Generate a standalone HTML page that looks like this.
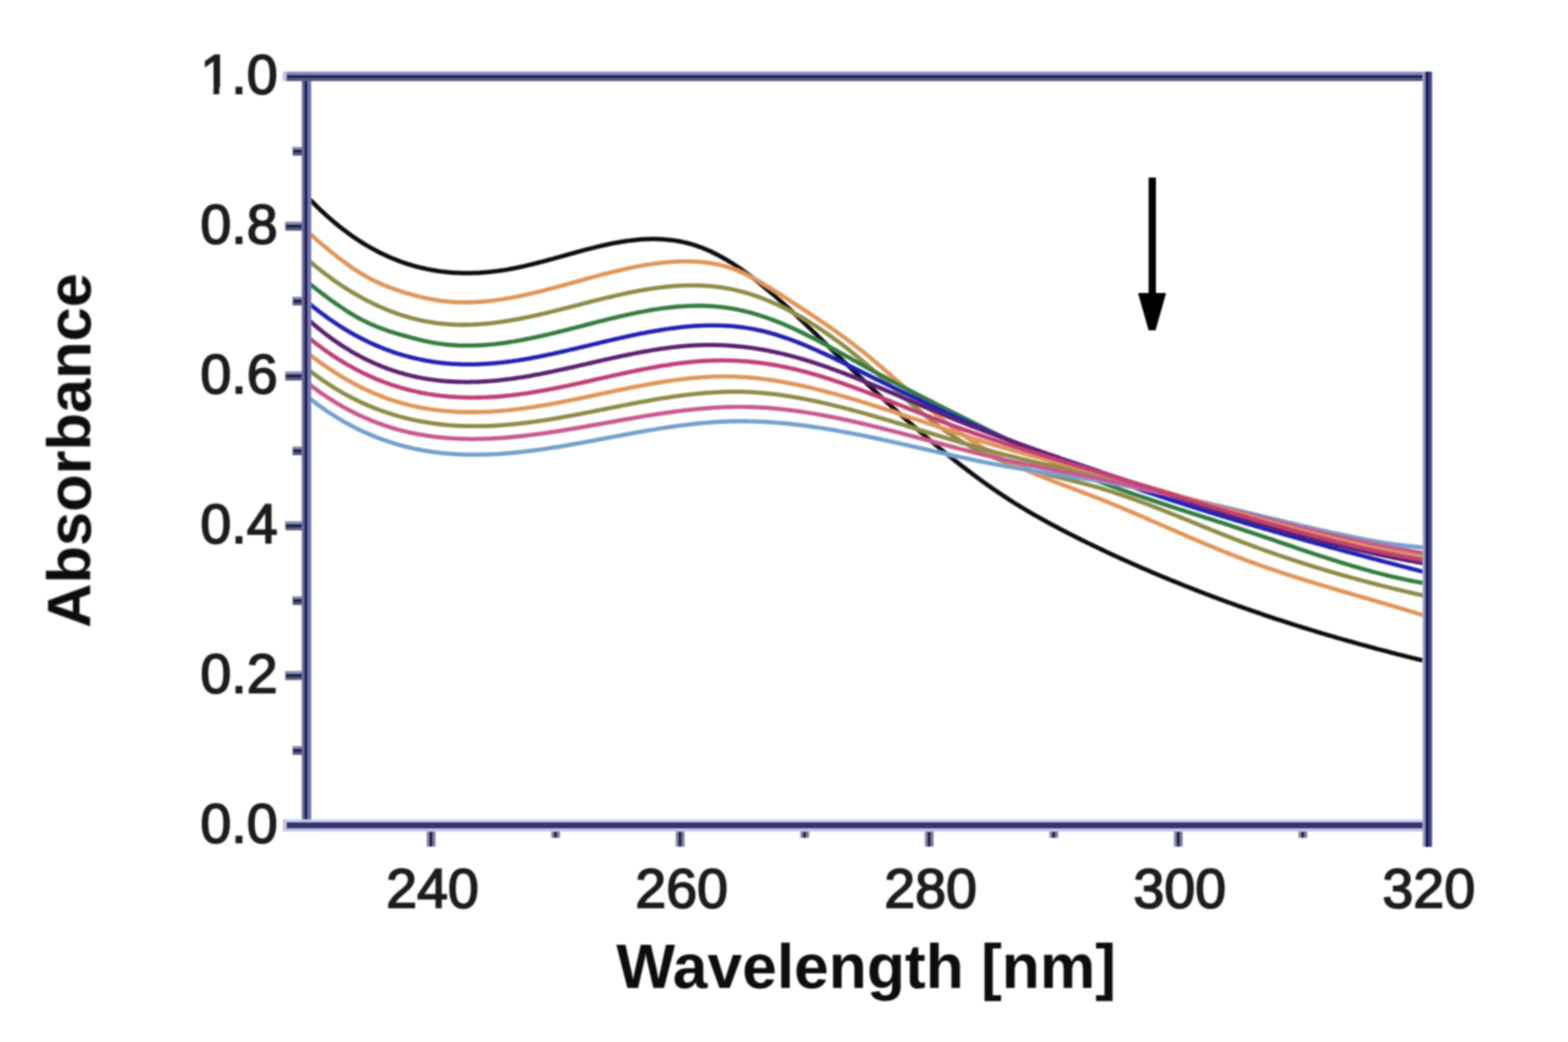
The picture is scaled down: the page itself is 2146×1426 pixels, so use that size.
<!DOCTYPE html>
<html><head><meta charset="utf-8"><title>Absorbance spectra</title><style>html,body{margin:0;padding:0;background:#fff;}svg{display:block;}</style></head><body>
<svg width="2146" height="1426" viewBox="0 0 2146 1426">
<defs><filter id="soft" x="0" y="0" width="2146" height="1426" filterUnits="userSpaceOnUse"><feGaussianBlur stdDeviation="0.9"/></filter></defs>
<rect width="2146" height="1426" fill="#fff"/>
<g filter="url(#soft)">
<clipPath id="c"><rect x="419.5" y="104.5" width="1534.0" height="1025.0"/></clipPath>
<g clip-path="url(#c)" fill="none" stroke-linejoin="round" stroke-linecap="round">
<path d="M420.0,268.6 L423.0,271.8 L426.0,274.9 L429.0,277.9 L432.0,280.9 L435.0,283.9 L438.0,286.7 L441.0,289.6 L444.0,292.3 L447.0,295.1 L450.0,297.7 L453.0,300.3 L456.0,302.9 L459.0,305.4 L462.0,307.9 L465.0,310.3 L468.0,312.6 L471.0,314.9 L474.0,317.2 L477.0,319.4 L480.0,321.6 L483.0,323.7 L486.0,325.7 L489.0,327.7 L492.0,329.7 L495.0,331.6 L498.0,333.5 L501.0,335.3 L504.0,337.0 L507.0,338.8 L510.0,340.4 L513.0,342.1 L516.0,343.7 L519.0,345.2 L522.0,346.7 L525.0,348.1 L528.0,349.6 L531.0,350.9 L534.0,352.2 L537.0,353.5 L540.0,354.7 L543.0,355.9 L546.0,357.1 L549.0,358.2 L552.0,359.3 L555.0,360.3 L558.0,361.3 L561.0,362.2 L564.0,363.1 L567.0,364.0 L570.0,364.8 L573.0,365.6 L576.0,366.3 L579.0,367.0 L582.0,367.7 L585.0,368.4 L588.0,368.9 L591.0,369.5 L594.0,370.0 L597.0,370.5 L600.0,371.0 L603.0,371.4 L606.0,371.8 L609.0,372.1 L612.0,372.4 L615.0,372.7 L618.0,372.9 L621.0,373.2 L624.0,373.3 L627.0,373.5 L630.0,373.6 L633.0,373.7 L636.0,373.7 L639.0,373.7 L642.0,373.7 L645.0,373.7 L648.0,373.6 L651.0,373.5 L654.0,373.4 L657.0,373.2 L660.0,373.0 L663.0,372.8 L666.0,372.5 L669.0,372.3 L672.0,371.9 L675.0,371.6 L678.0,371.3 L681.0,370.9 L684.0,370.5 L687.0,370.0 L690.0,369.6 L693.0,369.1 L696.0,368.6 L699.0,368.0 L702.0,367.5 L705.0,366.9 L708.0,366.3 L711.0,365.6 L714.0,365.0 L717.0,364.3 L720.0,363.6 L723.0,362.9 L726.0,362.2 L729.0,361.5 L732.0,360.7 L735.0,360.0 L738.0,359.2 L741.0,358.4 L744.0,357.6 L747.0,356.8 L750.0,356.0 L753.0,355.2 L756.0,354.4 L759.0,353.5 L762.0,352.7 L765.0,351.9 L768.0,351.0 L771.0,350.2 L774.0,349.3 L777.0,348.5 L780.0,347.7 L783.0,346.8 L786.0,346.0 L789.0,345.2 L792.0,344.4 L795.0,343.5 L798.0,342.7 L801.0,341.9 L804.0,341.1 L807.0,340.4 L810.0,339.6 L813.0,338.9 L816.0,338.1 L819.0,337.4 L822.0,336.7 L825.0,336.0 L828.0,335.3 L831.0,334.7 L834.0,334.0 L837.0,333.4 L840.0,332.8 L843.0,332.3 L846.0,331.7 L849.0,331.2 L852.0,330.7 L855.0,330.2 L858.0,329.8 L861.0,329.4 L864.0,329.0 L867.0,328.7 L870.0,328.4 L873.0,328.1 L876.0,327.8 L879.0,327.6 L882.0,327.4 L885.0,327.3 L888.0,327.2 L891.0,327.1 L894.0,327.1 L897.0,327.1 L900.0,327.2 L903.0,327.3 L906.0,327.4 L909.0,327.6 L912.0,327.9 L915.0,328.2 L918.0,328.5 L921.0,328.9 L924.0,329.3 L927.0,329.8 L930.0,330.3 L933.0,330.9 L936.0,331.6 L939.0,332.2 L942.0,333.0 L945.0,333.8 L948.0,334.7 L951.0,335.6 L954.0,336.6 L957.0,337.7 L960.0,338.8 L963.0,339.9 L966.0,341.2 L969.0,342.5 L972.0,343.8 L975.0,345.2 L978.0,346.7 L981.0,348.2 L984.0,349.8 L987.0,351.4 L990.0,353.1 L993.0,354.8 L996.0,356.6 L999.0,358.5 L1002.0,360.3 L1005.0,362.3 L1008.0,364.2 L1011.0,366.2 L1014.0,368.3 L1017.0,370.4 L1020.0,372.6 L1023.0,374.7 L1026.0,377.0 L1029.0,379.2 L1032.0,381.5 L1035.0,383.9 L1038.0,386.2 L1041.0,388.6 L1044.0,391.1 L1047.0,393.6 L1050.0,396.1 L1053.0,398.6 L1056.0,401.1 L1059.0,403.7 L1062.0,406.3 L1065.0,409.0 L1068.0,411.7 L1071.0,414.3 L1074.0,417.1 L1077.0,419.8 L1080.0,422.5 L1083.0,425.3 L1086.0,428.1 L1089.0,430.9 L1092.0,433.7 L1095.0,436.6 L1098.0,439.4 L1101.0,442.3 L1104.0,445.1 L1107.0,448.0 L1110.0,450.9 L1113.0,453.8 L1116.0,456.7 L1119.0,459.7 L1122.0,462.6 L1125.0,465.5 L1128.0,468.4 L1131.0,471.4 L1134.0,474.3 L1137.0,477.2 L1140.0,480.2 L1143.0,483.1 L1146.0,486.0 L1149.0,488.9 L1152.0,491.8 L1155.0,494.8 L1158.0,497.7 L1161.0,500.6 L1164.0,503.4 L1167.0,506.3 L1170.0,509.2 L1173.0,512.1 L1176.0,514.9 L1179.0,517.8 L1182.0,520.6 L1185.0,523.5 L1188.0,526.3 L1191.0,529.1 L1194.0,532.0 L1197.0,534.8 L1200.0,537.6 L1203.0,540.4 L1206.0,543.1 L1209.0,545.9 L1212.0,548.7 L1215.0,551.4 L1218.0,554.2 L1221.0,556.9 L1224.0,559.6 L1227.0,562.4 L1230.0,565.1 L1233.0,567.8 L1236.0,570.4 L1239.0,573.1 L1242.0,575.8 L1245.0,578.4 L1248.0,581.1 L1251.0,583.7 L1254.0,586.3 L1257.0,588.9 L1260.0,591.5 L1263.0,594.1 L1266.0,596.6 L1269.0,599.2 L1272.0,601.7 L1275.0,604.2 L1278.0,606.7 L1281.0,609.2 L1284.0,611.7 L1287.0,614.2 L1290.0,616.7 L1293.0,619.1 L1296.0,621.5 L1299.0,623.9 L1302.0,626.3 L1305.0,628.7 L1308.0,631.1 L1311.0,633.4 L1314.0,635.8 L1317.0,638.1 L1320.0,640.4 L1323.0,642.7 L1326.0,645.0 L1329.0,647.2 L1332.0,649.5 L1335.0,651.7 L1338.0,653.9 L1341.0,656.1 L1344.0,658.3 L1347.0,660.4 L1350.0,662.6 L1353.0,664.7 L1356.0,666.8 L1359.0,668.9 L1362.0,670.9 L1365.0,673.0 L1368.0,675.0 L1371.0,677.0 L1374.0,679.0 L1377.0,681.0 L1380.0,682.9 L1383.0,684.9 L1386.0,686.8 L1389.0,688.7 L1392.0,690.5 L1395.0,692.4 L1398.0,694.2 L1401.0,696.0 L1404.0,697.8 L1407.0,699.6 L1410.0,701.3 L1413.0,703.1 L1416.0,704.8 L1419.0,706.5 L1422.0,708.2 L1425.0,709.9 L1428.0,711.5 L1431.0,713.2 L1434.0,714.8 L1437.0,716.5 L1440.0,718.1 L1443.0,719.7 L1446.0,721.3 L1449.0,722.8 L1452.0,724.4 L1455.0,726.0 L1458.0,727.5 L1461.0,729.1 L1464.0,730.6 L1467.0,732.1 L1470.0,733.6 L1473.0,735.2 L1476.0,736.7 L1479.0,738.2 L1482.0,739.7 L1485.0,741.1 L1488.0,742.6 L1491.0,744.1 L1494.0,745.5 L1497.0,747.0 L1500.0,748.4 L1503.0,749.9 L1506.0,751.3 L1509.0,752.7 L1512.0,754.1 L1515.0,755.6 L1518.0,757.0 L1521.0,758.4 L1524.0,759.7 L1527.0,761.1 L1530.0,762.5 L1533.0,763.9 L1536.0,765.2 L1539.0,766.6 L1542.0,767.9 L1545.0,769.3 L1548.0,770.6 L1551.0,772.0 L1554.0,773.3 L1557.0,774.6 L1560.0,775.9 L1563.0,777.2 L1566.0,778.5 L1569.0,779.8 L1572.0,781.1 L1575.0,782.4 L1578.0,783.7 L1581.0,784.9 L1584.0,786.2 L1587.0,787.5 L1590.0,788.7 L1593.0,790.0 L1596.0,791.2 L1599.0,792.4 L1602.0,793.7 L1605.0,794.9 L1608.0,796.1 L1611.0,797.3 L1614.0,798.6 L1617.0,799.8 L1620.0,801.0 L1623.0,802.2 L1626.0,803.3 L1629.0,804.5 L1632.0,805.7 L1635.0,806.9 L1638.0,808.1 L1641.0,809.2 L1644.0,810.4 L1647.0,811.5 L1650.0,812.7 L1653.0,813.8 L1656.0,815.0 L1659.0,816.1 L1662.0,817.2 L1665.0,818.3 L1668.0,819.5 L1671.0,820.6 L1674.0,821.7 L1677.0,822.8 L1680.0,823.9 L1683.0,825.0 L1686.0,826.0 L1689.0,827.1 L1692.0,828.2 L1695.0,829.3 L1698.0,830.3 L1701.0,831.4 L1704.0,832.5 L1707.0,833.5 L1710.0,834.6 L1713.0,835.6 L1716.0,836.7 L1719.0,837.7 L1722.0,838.7 L1725.0,839.7 L1728.0,840.8 L1731.0,841.8 L1734.0,842.8 L1737.0,843.8 L1740.0,844.8 L1743.0,845.8 L1746.0,846.8 L1749.0,847.8 L1752.0,848.7 L1755.0,849.7 L1758.0,850.7 L1761.0,851.7 L1764.0,852.6 L1767.0,853.6 L1770.0,854.6 L1773.0,855.5 L1776.0,856.5 L1779.0,857.4 L1782.0,858.3 L1785.0,859.3 L1788.0,860.2 L1791.0,861.1 L1794.0,862.0 L1797.0,863.0 L1800.0,863.9 L1803.0,864.8 L1806.0,865.7 L1809.0,866.6 L1812.0,867.5 L1815.0,868.4 L1818.0,869.3 L1821.0,870.1 L1824.0,871.0 L1827.0,871.9 L1830.0,872.8 L1833.0,873.6 L1836.0,874.5 L1839.0,875.4 L1842.0,876.2 L1845.0,877.1 L1848.0,877.9 L1851.0,878.7 L1854.0,879.6 L1857.0,880.4 L1860.0,881.3 L1863.0,882.1 L1866.0,882.9 L1869.0,883.7 L1872.0,884.5 L1875.0,885.3 L1878.0,886.2 L1881.0,887.0 L1884.0,887.8 L1887.0,888.6 L1890.0,889.3 L1893.0,890.1 L1896.0,890.9 L1899.0,891.7 L1902.0,892.5 L1905.0,893.3 L1908.0,894.0 L1911.0,894.8 L1914.0,895.6 L1917.0,896.3 L1920.0,897.1 L1923.0,897.8 L1926.0,898.6 L1929.0,899.3 L1932.0,900.1 L1935.0,900.8 L1938.0,901.5 L1941.0,902.3 L1944.0,903.0 L1947.0,903.7 L1950.0,904.4 L1951.0,904.7" stroke="#111111" stroke-width="6.0"/>
<path d="M420.0,354.5 L423.0,357.1 L426.0,359.6 L429.0,362.1 L432.0,364.5 L435.0,367.0 L438.0,369.3 L441.0,371.7 L444.0,374.0 L447.0,376.3 L450.0,378.5 L453.0,380.7 L456.0,382.8 L459.0,385.0 L462.0,387.0 L465.0,389.1 L468.0,391.1 L471.0,393.0 L474.0,395.0 L477.0,396.9 L480.0,398.7 L483.0,400.5 L486.0,402.3 L489.0,404.0 L492.0,405.7 L495.0,407.4 L498.0,409.0 L501.0,410.6 L504.0,412.2 L507.0,413.7 L510.0,415.2 L513.0,416.6 L516.0,418.0 L519.0,419.4 L522.0,420.7 L525.0,422.0 L528.0,423.3 L531.0,424.5 L534.0,425.7 L537.0,426.8 L540.0,427.9 L543.0,429.0 L546.0,430.1 L549.0,431.1 L552.0,432.0 L555.0,432.9 L558.0,433.8 L561.0,434.7 L564.0,435.5 L567.0,436.3 L570.0,437.0 L573.0,437.7 L576.0,438.4 L579.0,439.1 L582.0,439.7 L585.0,440.2 L588.0,440.7 L591.0,441.2 L594.0,441.7 L597.0,442.1 L600.0,442.5 L603.0,442.8 L606.0,443.2 L609.0,443.4 L612.0,443.7 L615.0,443.9 L618.0,444.1 L621.0,444.2 L624.0,444.3 L627.0,444.4 L630.0,444.5 L633.0,444.5 L636.0,444.5 L639.0,444.4 L642.0,444.4 L645.0,444.3 L648.0,444.2 L651.0,444.0 L654.0,443.8 L657.0,443.6 L660.0,443.4 L663.0,443.2 L666.0,442.9 L669.0,442.6 L672.0,442.3 L675.0,441.9 L678.0,441.6 L681.0,441.2 L684.0,440.8 L687.0,440.3 L690.0,439.9 L693.0,439.4 L696.0,438.9 L699.0,438.4 L702.0,437.9 L705.0,437.4 L708.0,436.8 L711.0,436.3 L714.0,435.7 L717.0,435.1 L720.0,434.5 L723.0,433.9 L726.0,433.2 L729.0,432.6 L732.0,431.9 L735.0,431.2 L738.0,430.6 L741.0,429.9 L744.0,429.2 L747.0,428.5 L750.0,427.7 L753.0,427.0 L756.0,426.3 L759.0,425.6 L762.0,424.8 L765.0,424.1 L768.0,423.3 L771.0,422.5 L774.0,421.8 L777.0,421.0 L780.0,420.2 L783.0,419.5 L786.0,418.7 L789.0,417.9 L792.0,417.2 L795.0,416.4 L798.0,415.6 L801.0,414.8 L804.0,414.1 L807.0,413.3 L810.0,412.5 L813.0,411.8 L816.0,411.0 L819.0,410.3 L822.0,409.5 L825.0,408.8 L828.0,408.1 L831.0,407.3 L834.0,406.6 L837.0,405.9 L840.0,405.2 L843.0,404.5 L846.0,403.8 L849.0,403.2 L852.0,402.5 L855.0,401.9 L858.0,401.2 L861.0,400.6 L864.0,400.0 L867.0,399.4 L870.0,398.8 L873.0,398.2 L876.0,397.7 L879.0,397.2 L882.0,396.6 L885.0,396.1 L888.0,395.7 L891.0,395.2 L894.0,394.7 L897.0,394.3 L900.0,393.9 L903.0,393.5 L906.0,393.2 L909.0,392.8 L912.0,392.5 L915.0,392.2 L918.0,391.9 L921.0,391.7 L924.0,391.4 L927.0,391.2 L930.0,391.1 L933.0,390.9 L936.0,390.8 L939.0,390.7 L942.0,390.6 L945.0,390.6 L948.0,390.6 L951.0,390.6 L954.0,390.6 L957.0,390.7 L960.0,390.8 L963.0,391.0 L966.0,391.2 L969.0,391.4 L972.0,391.6 L975.0,391.9 L978.0,392.2 L981.0,392.5 L984.0,392.9 L987.0,393.3 L990.0,393.8 L993.0,394.3 L996.0,394.8 L999.0,395.4 L1002.0,396.0 L1005.0,396.7 L1008.0,397.3 L1011.0,398.1 L1014.0,398.8 L1017.0,399.6 L1020.0,400.5 L1023.0,401.4 L1026.0,402.3 L1029.0,403.2 L1032.0,404.2 L1035.0,405.2 L1038.0,406.3 L1041.0,407.4 L1044.0,408.5 L1047.0,409.7 L1050.0,410.9 L1053.0,412.2 L1056.0,413.4 L1059.0,414.8 L1062.0,416.1 L1065.0,417.5 L1068.0,418.9 L1071.0,420.3 L1074.0,421.8 L1077.0,423.3 L1080.0,424.9 L1083.0,426.5 L1086.0,428.1 L1089.0,429.7 L1092.0,431.4 L1095.0,433.1 L1098.0,434.8 L1101.0,436.6 L1104.0,438.4 L1107.0,440.2 L1110.0,442.1 L1113.0,444.0 L1116.0,445.9 L1119.0,447.9 L1122.0,449.9 L1125.0,451.9 L1128.0,453.9 L1131.0,456.0 L1134.0,458.1 L1137.0,460.2 L1140.0,462.3 L1143.0,464.5 L1146.0,466.7 L1149.0,469.0 L1152.0,471.2 L1155.0,473.5 L1158.0,475.8 L1161.0,478.1 L1164.0,480.5 L1167.0,482.9 L1170.0,485.3 L1173.0,487.8 L1176.0,490.2 L1179.0,492.7 L1182.0,495.2 L1185.0,497.7 L1188.0,500.3 L1191.0,502.9 L1194.0,505.5 L1197.0,508.1 L1200.0,510.7 L1203.0,513.3 L1206.0,516.0 L1209.0,518.6 L1212.0,521.3 L1215.0,524.0 L1218.0,526.6 L1221.0,529.3 L1224.0,532.0 L1227.0,534.6 L1230.0,537.3 L1233.0,539.9 L1236.0,542.6 L1239.0,545.2 L1242.0,547.9 L1245.0,550.5 L1248.0,553.1 L1251.0,555.7 L1254.0,558.2 L1257.0,560.8 L1260.0,563.3 L1263.0,565.8 L1266.0,568.2 L1269.0,570.7 L1272.0,573.1 L1275.0,575.5 L1278.0,577.8 L1281.0,580.2 L1284.0,582.4 L1287.0,584.7 L1290.0,586.9 L1293.0,589.0 L1296.0,591.1 L1299.0,593.2 L1302.0,595.2 L1305.0,597.2 L1308.0,599.1 L1311.0,601.0 L1314.0,602.9 L1317.0,604.7 L1320.0,606.4 L1323.0,608.1 L1326.0,609.8 L1329.0,611.4 L1332.0,613.0 L1335.0,614.5 L1338.0,616.0 L1341.0,617.5 L1344.0,618.9 L1347.0,620.3 L1350.0,621.7 L1353.0,623.0 L1356.0,624.3 L1359.0,625.6 L1362.0,626.8 L1365.0,628.0 L1368.0,629.2 L1371.0,630.3 L1374.0,631.5 L1377.0,632.6 L1380.0,633.6 L1383.0,634.6 L1386.0,635.7 L1389.0,636.7 L1392.0,637.6 L1395.0,638.6 L1398.0,639.5 L1401.0,640.4 L1404.0,641.3 L1407.0,642.2 L1410.0,643.0 L1413.0,643.9 L1416.0,644.7 L1419.0,645.5 L1422.0,646.3 L1425.0,647.1 L1428.0,647.9 L1431.0,648.7 L1434.0,649.4 L1437.0,650.2 L1440.0,650.9 L1443.0,651.7 L1446.0,652.4 L1449.0,653.2 L1452.0,653.9 L1455.0,654.6 L1458.0,655.4 L1461.0,656.1 L1464.0,656.9 L1467.0,657.6 L1470.0,658.4 L1473.0,659.1 L1476.0,659.9 L1479.0,660.7 L1482.0,661.4 L1485.0,662.2 L1488.0,663.0 L1491.0,663.9 L1494.0,664.7 L1497.0,665.5 L1500.0,666.4 L1503.0,667.2 L1506.0,668.1 L1509.0,669.0 L1512.0,669.9 L1515.0,670.9 L1518.0,671.8 L1521.0,672.8 L1524.0,673.7 L1527.0,674.7 L1530.0,675.7 L1533.0,676.7 L1536.0,677.7 L1539.0,678.8 L1542.0,679.8 L1545.0,680.9 L1548.0,681.9 L1551.0,683.0 L1554.0,684.1 L1557.0,685.2 L1560.0,686.3 L1563.0,687.4 L1566.0,688.5 L1569.0,689.6 L1572.0,690.8 L1575.0,691.9 L1578.0,693.1 L1581.0,694.2 L1584.0,695.4 L1587.0,696.6 L1590.0,697.7 L1593.0,698.9 L1596.0,700.1 L1599.0,701.3 L1602.0,702.5 L1605.0,703.7 L1608.0,704.9 L1611.0,706.1 L1614.0,707.3 L1617.0,708.5 L1620.0,709.7 L1623.0,710.9 L1626.0,712.2 L1629.0,713.4 L1632.0,714.6 L1635.0,715.8 L1638.0,717.0 L1641.0,718.3 L1644.0,719.5 L1647.0,720.7 L1650.0,721.9 L1653.0,723.1 L1656.0,724.3 L1659.0,725.6 L1662.0,726.8 L1665.0,728.0 L1668.0,729.2 L1671.0,730.4 L1674.0,731.6 L1677.0,732.8 L1680.0,733.9 L1683.0,735.1 L1686.0,736.3 L1689.0,737.5 L1692.0,738.6 L1695.0,739.8 L1698.0,741.0 L1701.0,742.1 L1704.0,743.2 L1707.0,744.4 L1710.0,745.5 L1713.0,746.6 L1716.0,747.7 L1719.0,748.8 L1722.0,749.9 L1725.0,751.0 L1728.0,752.1 L1731.0,753.2 L1734.0,754.2 L1737.0,755.3 L1740.0,756.3 L1743.0,757.4 L1746.0,758.4 L1749.0,759.5 L1752.0,760.5 L1755.0,761.5 L1758.0,762.5 L1761.0,763.5 L1764.0,764.5 L1767.0,765.5 L1770.0,766.5 L1773.0,767.5 L1776.0,768.5 L1779.0,769.4 L1782.0,770.4 L1785.0,771.4 L1788.0,772.3 L1791.0,773.3 L1794.0,774.2 L1797.0,775.1 L1800.0,776.1 L1803.0,777.0 L1806.0,777.9 L1809.0,778.8 L1812.0,779.7 L1815.0,780.6 L1818.0,781.5 L1821.0,782.4 L1824.0,783.3 L1827.0,784.1 L1830.0,785.0 L1833.0,785.9 L1836.0,786.7 L1839.0,787.6 L1842.0,788.4 L1845.0,789.3 L1848.0,790.1 L1851.0,790.9 L1854.0,791.7 L1857.0,792.6 L1860.0,793.4 L1863.0,794.2 L1866.0,795.0 L1869.0,795.8 L1872.0,796.6 L1875.0,797.4 L1878.0,798.1 L1881.0,798.9 L1884.0,799.7 L1887.0,800.5 L1890.0,801.2 L1893.0,802.0 L1896.0,802.7 L1899.0,803.5 L1902.0,804.2 L1905.0,805.0 L1908.0,805.7 L1911.0,806.4 L1914.0,807.1 L1917.0,807.9 L1920.0,808.6 L1923.0,809.3 L1926.0,810.0 L1929.0,810.7 L1932.0,811.4 L1935.0,812.1 L1938.0,812.8 L1941.0,813.4 L1944.0,814.1 L1947.0,814.8 L1950.0,815.5 L1951.0,815.7" stroke="#8e8c4a" stroke-width="5.8"/>
<path d="M420.0,316.6 L423.0,319.2 L426.0,321.8 L429.0,324.3 L432.0,326.9 L435.0,329.5 L438.0,332.0 L441.0,334.6 L444.0,337.1 L447.0,339.6 L450.0,342.1 L453.0,344.5 L456.0,346.9 L459.0,349.3 L462.0,351.7 L465.0,354.0 L468.0,356.3 L471.0,358.5 L474.0,360.7 L477.0,362.9 L480.0,365.0 L483.0,367.1 L486.0,369.1 L489.0,371.0 L492.0,372.9 L495.0,374.8 L498.0,376.6 L501.0,378.3 L504.0,380.0 L507.0,381.6 L510.0,383.1 L513.0,384.6 L516.0,386.0 L519.0,387.4 L522.0,388.8 L525.0,390.0 L528.0,391.3 L531.0,392.5 L534.0,393.6 L537.0,394.7 L540.0,395.8 L543.0,396.8 L546.0,397.8 L549.0,398.8 L552.0,399.7 L555.0,400.7 L558.0,401.6 L561.0,402.4 L564.0,403.3 L567.0,404.1 L570.0,404.9 L573.0,405.7 L576.0,406.4 L579.0,407.1 L582.0,407.8 L585.0,408.4 L588.0,409.1 L591.0,409.6 L594.0,410.2 L597.0,410.7 L600.0,411.2 L603.0,411.6 L606.0,412.0 L609.0,412.3 L612.0,412.6 L615.0,412.9 L618.0,413.1 L621.0,413.3 L624.0,413.5 L627.0,413.6 L630.0,413.7 L633.0,413.7 L636.0,413.8 L639.0,413.8 L642.0,413.7 L645.0,413.6 L648.0,413.5 L651.0,413.4 L654.0,413.2 L657.0,413.0 L660.0,412.8 L663.0,412.5 L666.0,412.3 L669.0,412.0 L672.0,411.6 L675.0,411.3 L678.0,410.9 L681.0,410.5 L684.0,410.0 L687.0,409.6 L690.0,409.1 L693.0,408.6 L696.0,408.1 L699.0,407.6 L702.0,407.0 L705.0,406.4 L708.0,405.8 L711.0,405.2 L714.0,404.6 L717.0,404.0 L720.0,403.3 L723.0,402.6 L726.0,402.0 L729.0,401.3 L732.0,400.5 L735.0,399.8 L738.0,399.1 L741.0,398.3 L744.0,397.6 L747.0,396.8 L750.0,396.0 L753.0,395.2 L756.0,394.4 L759.0,393.7 L762.0,392.8 L765.0,392.0 L768.0,391.2 L771.0,390.4 L774.0,389.6 L777.0,388.7 L780.0,387.9 L783.0,387.1 L786.0,386.3 L789.0,385.4 L792.0,384.6 L795.0,383.8 L798.0,382.9 L801.0,382.1 L804.0,381.3 L807.0,380.4 L810.0,379.6 L813.0,378.8 L816.0,378.0 L819.0,377.2 L822.0,376.4 L825.0,375.6 L828.0,374.8 L831.0,374.1 L834.0,373.3 L837.0,372.6 L840.0,371.8 L843.0,371.1 L846.0,370.4 L849.0,369.7 L852.0,369.0 L855.0,368.3 L858.0,367.6 L861.0,367.0 L864.0,366.4 L867.0,365.7 L870.0,365.2 L873.0,364.6 L876.0,364.0 L879.0,363.5 L882.0,362.9 L885.0,362.4 L888.0,362.0 L891.0,361.5 L894.0,361.1 L897.0,360.7 L900.0,360.3 L903.0,359.9 L906.0,359.6 L909.0,359.2 L912.0,359.0 L915.0,358.7 L918.0,358.5 L921.0,358.3 L924.0,358.1 L927.0,358.0 L930.0,357.9 L933.0,357.8 L936.0,357.7 L939.0,357.7 L942.0,357.8 L945.0,357.8 L948.0,357.9 L951.0,358.1 L954.0,358.2 L957.0,358.4 L960.0,358.7 L963.0,359.0 L966.0,359.3 L969.0,359.7 L972.0,360.1 L975.0,360.6 L978.0,361.1 L981.0,361.7 L984.0,362.3 L987.0,363.0 L990.0,363.8 L993.0,364.6 L996.0,365.5 L999.0,366.4 L1002.0,367.5 L1005.0,368.6 L1008.0,369.8 L1011.0,371.0 L1014.0,372.3 L1017.0,373.6 L1020.0,375.1 L1023.0,376.5 L1026.0,378.1 L1029.0,379.6 L1032.0,381.2 L1035.0,382.9 L1038.0,384.6 L1041.0,386.3 L1044.0,388.1 L1047.0,389.9 L1050.0,391.7 L1053.0,393.5 L1056.0,395.4 L1059.0,397.3 L1062.0,399.2 L1065.0,401.1 L1068.0,403.0 L1071.0,405.0 L1074.0,406.9 L1077.0,408.8 L1080.0,410.8 L1083.0,412.7 L1086.0,414.7 L1089.0,416.6 L1092.0,418.5 L1095.0,420.5 L1098.0,422.4 L1101.0,424.4 L1104.0,426.4 L1107.0,428.3 L1110.0,430.3 L1113.0,432.3 L1116.0,434.3 L1119.0,436.3 L1122.0,438.3 L1125.0,440.3 L1128.0,442.4 L1131.0,444.4 L1134.0,446.5 L1137.0,448.6 L1140.0,450.7 L1143.0,452.8 L1146.0,454.9 L1149.0,457.1 L1152.0,459.3 L1155.0,461.4 L1158.0,463.6 L1161.0,465.9 L1164.0,468.1 L1167.0,470.4 L1170.0,472.7 L1173.0,475.0 L1176.0,477.4 L1179.0,479.7 L1182.0,482.1 L1185.0,484.6 L1188.0,487.0 L1191.0,489.5 L1194.0,492.0 L1197.0,494.5 L1200.0,497.0 L1203.0,499.6 L1206.0,502.1 L1209.0,504.7 L1212.0,507.3 L1215.0,509.9 L1218.0,512.5 L1221.0,515.1 L1224.0,517.7 L1227.0,520.4 L1230.0,523.0 L1233.0,525.6 L1236.0,528.3 L1239.0,530.9 L1242.0,533.6 L1245.0,536.2 L1248.0,538.8 L1251.0,541.4 L1254.0,544.0 L1257.0,546.6 L1260.0,549.2 L1263.0,551.8 L1266.0,554.4 L1269.0,556.9 L1272.0,559.4 L1275.0,561.9 L1278.0,564.4 L1281.0,566.9 L1284.0,569.3 L1287.0,571.8 L1290.0,574.2 L1293.0,576.5 L1296.0,578.9 L1299.0,581.2 L1302.0,583.4 L1305.0,585.7 L1308.0,587.9 L1311.0,590.1 L1314.0,592.2 L1317.0,594.3 L1320.0,596.4 L1323.0,598.5 L1326.0,600.5 L1329.0,602.5 L1332.0,604.4 L1335.0,606.4 L1338.0,608.3 L1341.0,610.1 L1344.0,612.0 L1347.0,613.8 L1350.0,615.6 L1353.0,617.3 L1356.0,619.1 L1359.0,620.8 L1362.0,622.4 L1365.0,624.1 L1368.0,625.7 L1371.0,627.3 L1374.0,628.8 L1377.0,630.3 L1380.0,631.9 L1383.0,633.3 L1386.0,634.8 L1389.0,636.2 L1392.0,637.6 L1395.0,639.0 L1398.0,640.4 L1401.0,641.8 L1404.0,643.1 L1407.0,644.4 L1410.0,645.7 L1413.0,647.0 L1416.0,648.2 L1419.0,649.5 L1422.0,650.7 L1425.0,651.9 L1428.0,653.2 L1431.0,654.4 L1434.0,655.5 L1437.0,656.7 L1440.0,657.9 L1443.0,659.1 L1446.0,660.2 L1449.0,661.4 L1452.0,662.5 L1455.0,663.7 L1458.0,664.8 L1461.0,665.9 L1464.0,667.1 L1467.0,668.2 L1470.0,669.3 L1473.0,670.4 L1476.0,671.6 L1479.0,672.7 L1482.0,673.8 L1485.0,675.0 L1488.0,676.1 L1491.0,677.3 L1494.0,678.4 L1497.0,679.6 L1500.0,680.8 L1503.0,681.9 L1506.0,683.1 L1509.0,684.3 L1512.0,685.5 L1515.0,686.7 L1518.0,687.9 L1521.0,689.2 L1524.0,690.4 L1527.0,691.6 L1530.0,692.9 L1533.0,694.1 L1536.0,695.4 L1539.0,696.6 L1542.0,697.9 L1545.0,699.2 L1548.0,700.5 L1551.0,701.7 L1554.0,703.0 L1557.0,704.3 L1560.0,705.6 L1563.0,706.9 L1566.0,708.2 L1569.0,709.5 L1572.0,710.8 L1575.0,712.1 L1578.0,713.4 L1581.0,714.7 L1584.0,716.0 L1587.0,717.3 L1590.0,718.6 L1593.0,719.9 L1596.0,721.3 L1599.0,722.6 L1602.0,723.9 L1605.0,725.2 L1608.0,726.5 L1611.0,727.8 L1614.0,729.1 L1617.0,730.4 L1620.0,731.7 L1623.0,733.0 L1626.0,734.3 L1629.0,735.6 L1632.0,736.9 L1635.0,738.2 L1638.0,739.4 L1641.0,740.7 L1644.0,742.0 L1647.0,743.3 L1650.0,744.5 L1653.0,745.8 L1656.0,747.0 L1659.0,748.3 L1662.0,749.5 L1665.0,750.8 L1668.0,752.0 L1671.0,753.2 L1674.0,754.4 L1677.0,755.6 L1680.0,756.8 L1683.0,758.0 L1686.0,759.2 L1689.0,760.4 L1692.0,761.5 L1695.0,762.7 L1698.0,763.8 L1701.0,765.0 L1704.0,766.1 L1707.0,767.2 L1710.0,768.3 L1713.0,769.4 L1716.0,770.5 L1719.0,771.6 L1722.0,772.7 L1725.0,773.8 L1728.0,774.8 L1731.0,775.9 L1734.0,776.9 L1737.0,777.9 L1740.0,779.0 L1743.0,780.0 L1746.0,781.0 L1749.0,782.0 L1752.0,783.0 L1755.0,784.0 L1758.0,785.0 L1761.0,785.9 L1764.0,786.9 L1767.0,787.9 L1770.0,788.8 L1773.0,789.8 L1776.0,790.7 L1779.0,791.7 L1782.0,792.6 L1785.0,793.5 L1788.0,794.5 L1791.0,795.4 L1794.0,796.3 L1797.0,797.2 L1800.0,798.1 L1803.0,799.1 L1806.0,800.0 L1809.0,800.9 L1812.0,801.8 L1815.0,802.6 L1818.0,803.5 L1821.0,804.4 L1824.0,805.3 L1827.0,806.2 L1830.0,807.1 L1833.0,808.0 L1836.0,808.8 L1839.0,809.7 L1842.0,810.6 L1845.0,811.5 L1848.0,812.3 L1851.0,813.2 L1854.0,814.1 L1857.0,815.0 L1860.0,815.8 L1863.0,816.7 L1866.0,817.6 L1869.0,818.4 L1872.0,819.3 L1875.0,820.2 L1878.0,821.1 L1881.0,821.9 L1884.0,822.8 L1887.0,823.7 L1890.0,824.6 L1893.0,825.4 L1896.0,826.3 L1899.0,827.2 L1902.0,828.1 L1905.0,829.0 L1908.0,829.9 L1911.0,830.8 L1914.0,831.7 L1917.0,832.6 L1920.0,833.5 L1923.0,834.4 L1926.0,835.3 L1929.0,836.2 L1932.0,837.1 L1935.0,838.0 L1938.0,839.0 L1941.0,839.9 L1944.0,840.8 L1947.0,841.8 L1950.0,842.7 L1951.0,843.0" stroke="#e0965a" stroke-width="5.8"/>
<path d="M420.0,385.4 L423.0,387.8 L426.0,390.2 L429.0,392.6 L432.0,394.9 L435.0,397.2 L438.0,399.6 L441.0,401.9 L444.0,404.1 L447.0,406.4 L450.0,408.6 L453.0,410.8 L456.0,412.9 L459.0,415.1 L462.0,417.2 L465.0,419.2 L468.0,421.2 L471.0,423.2 L474.0,425.2 L477.0,427.1 L480.0,428.9 L483.0,430.7 L486.0,432.5 L489.0,434.2 L492.0,435.9 L495.0,437.5 L498.0,439.0 L501.0,440.5 L504.0,441.9 L507.0,443.3 L510.0,444.6 L513.0,445.9 L516.0,447.2 L519.0,448.3 L522.0,449.5 L525.0,450.6 L528.0,451.6 L531.0,452.7 L534.0,453.7 L537.0,454.6 L540.0,455.6 L543.0,456.5 L546.0,457.4 L549.0,458.2 L552.0,459.1 L555.0,459.9 L558.0,460.7 L561.0,461.6 L564.0,462.4 L567.0,463.1 L570.0,463.9 L573.0,464.7 L576.0,465.4 L579.0,466.1 L582.0,466.8 L585.0,467.4 L588.0,468.0 L591.0,468.6 L594.0,469.1 L597.0,469.6 L600.0,470.1 L603.0,470.5 L606.0,470.9 L609.0,471.3 L612.0,471.6 L615.0,471.9 L618.0,472.1 L621.0,472.3 L624.0,472.5 L627.0,472.7 L630.0,472.8 L633.0,472.9 L636.0,472.9 L639.0,472.9 L642.0,472.9 L645.0,472.9 L648.0,472.8 L651.0,472.7 L654.0,472.6 L657.0,472.5 L660.0,472.3 L663.0,472.1 L666.0,471.9 L669.0,471.6 L672.0,471.4 L675.0,471.1 L678.0,470.8 L681.0,470.4 L684.0,470.1 L687.0,469.7 L690.0,469.3 L693.0,468.8 L696.0,468.4 L699.0,467.9 L702.0,467.5 L705.0,467.0 L708.0,466.4 L711.0,465.9 L714.0,465.4 L717.0,464.8 L720.0,464.2 L723.0,463.6 L726.0,463.0 L729.0,462.4 L732.0,461.8 L735.0,461.1 L738.0,460.4 L741.0,459.8 L744.0,459.1 L747.0,458.4 L750.0,457.7 L753.0,457.0 L756.0,456.3 L759.0,455.6 L762.0,454.8 L765.0,454.1 L768.0,453.3 L771.0,452.6 L774.0,451.8 L777.0,451.1 L780.0,450.3 L783.0,449.5 L786.0,448.8 L789.0,448.0 L792.0,447.2 L795.0,446.5 L798.0,445.7 L801.0,444.9 L804.0,444.1 L807.0,443.4 L810.0,442.6 L813.0,441.8 L816.0,441.0 L819.0,440.3 L822.0,439.5 L825.0,438.8 L828.0,438.0 L831.0,437.3 L834.0,436.5 L837.0,435.8 L840.0,435.1 L843.0,434.4 L846.0,433.6 L849.0,432.9 L852.0,432.3 L855.0,431.6 L858.0,430.9 L861.0,430.3 L864.0,429.6 L867.0,429.0 L870.0,428.3 L873.0,427.7 L876.0,427.1 L879.0,426.6 L882.0,426.0 L885.0,425.5 L888.0,424.9 L891.0,424.4 L894.0,423.9 L897.0,423.4 L900.0,423.0 L903.0,422.5 L906.0,422.1 L909.0,421.7 L912.0,421.3 L915.0,421.0 L918.0,420.6 L921.0,420.3 L924.0,420.0 L927.0,419.7 L930.0,419.5 L933.0,419.3 L936.0,419.1 L939.0,418.9 L942.0,418.8 L945.0,418.7 L948.0,418.6 L951.0,418.5 L954.0,418.5 L957.0,418.5 L960.0,418.5 L963.0,418.5 L966.0,418.6 L969.0,418.8 L972.0,418.9 L975.0,419.1 L978.0,419.3 L981.0,419.6 L984.0,419.8 L987.0,420.2 L990.0,420.5 L993.0,420.9 L996.0,421.3 L999.0,421.8 L1002.0,422.3 L1005.0,422.8 L1008.0,423.4 L1011.0,424.0 L1014.0,424.7 L1017.0,425.3 L1020.0,426.1 L1023.0,426.8 L1026.0,427.6 L1029.0,428.4 L1032.0,429.3 L1035.0,430.1 L1038.0,431.1 L1041.0,432.0 L1044.0,433.0 L1047.0,434.0 L1050.0,435.0 L1053.0,436.1 L1056.0,437.2 L1059.0,438.3 L1062.0,439.5 L1065.0,440.7 L1068.0,441.9 L1071.0,443.1 L1074.0,444.4 L1077.0,445.7 L1080.0,447.0 L1083.0,448.3 L1086.0,449.7 L1089.0,451.1 L1092.0,452.5 L1095.0,453.9 L1098.0,455.3 L1101.0,456.8 L1104.0,458.3 L1107.0,459.8 L1110.0,461.3 L1113.0,462.8 L1116.0,464.4 L1119.0,465.9 L1122.0,467.5 L1125.0,469.1 L1128.0,470.7 L1131.0,472.3 L1134.0,473.9 L1137.0,475.6 L1140.0,477.2 L1143.0,478.8 L1146.0,480.5 L1149.0,482.2 L1152.0,483.8 L1155.0,485.5 L1158.0,487.2 L1161.0,488.8 L1164.0,490.5 L1167.0,492.2 L1170.0,493.9 L1173.0,495.5 L1176.0,497.2 L1179.0,498.9 L1182.0,500.5 L1185.0,502.2 L1188.0,503.9 L1191.0,505.5 L1194.0,507.2 L1197.0,508.8 L1200.0,510.4 L1203.0,512.1 L1206.0,513.7 L1209.0,515.3 L1212.0,516.9 L1215.0,518.5 L1218.0,520.1 L1221.0,521.7 L1224.0,523.3 L1227.0,524.9 L1230.0,526.5 L1233.0,528.1 L1236.0,529.6 L1239.0,531.2 L1242.0,532.8 L1245.0,534.3 L1248.0,535.9 L1251.0,537.4 L1254.0,539.0 L1257.0,540.5 L1260.0,542.1 L1263.0,543.6 L1266.0,545.1 L1269.0,546.7 L1272.0,548.2 L1275.0,549.7 L1278.0,551.2 L1281.0,552.8 L1284.0,554.3 L1287.0,555.8 L1290.0,557.3 L1293.0,558.8 L1296.0,560.3 L1299.0,561.9 L1302.0,563.4 L1305.0,564.9 L1308.0,566.4 L1311.0,567.9 L1314.0,569.4 L1317.0,570.9 L1320.0,572.4 L1323.0,573.9 L1326.0,575.4 L1329.0,576.9 L1332.0,578.4 L1335.0,579.9 L1338.0,581.4 L1341.0,582.9 L1344.0,584.4 L1347.0,585.9 L1350.0,587.4 L1353.0,588.9 L1356.0,590.4 L1359.0,591.9 L1362.0,593.4 L1365.0,595.0 L1368.0,596.5 L1371.0,598.0 L1374.0,599.5 L1377.0,601.0 L1380.0,602.5 L1383.0,604.0 L1386.0,605.5 L1389.0,607.1 L1392.0,608.6 L1395.0,610.1 L1398.0,611.6 L1401.0,613.1 L1404.0,614.6 L1407.0,616.1 L1410.0,617.5 L1413.0,619.0 L1416.0,620.5 L1419.0,622.0 L1422.0,623.4 L1425.0,624.9 L1428.0,626.3 L1431.0,627.7 L1434.0,629.1 L1437.0,630.5 L1440.0,631.9 L1443.0,633.3 L1446.0,634.7 L1449.0,636.0 L1452.0,637.4 L1455.0,638.7 L1458.0,640.0 L1461.0,641.3 L1464.0,642.6 L1467.0,643.9 L1470.0,645.1 L1473.0,646.4 L1476.0,647.7 L1479.0,648.9 L1482.0,650.1 L1485.0,651.3 L1488.0,652.6 L1491.0,653.8 L1494.0,654.9 L1497.0,656.1 L1500.0,657.3 L1503.0,658.5 L1506.0,659.6 L1509.0,660.8 L1512.0,661.9 L1515.0,663.0 L1518.0,664.1 L1521.0,665.2 L1524.0,666.4 L1527.0,667.4 L1530.0,668.5 L1533.0,669.6 L1536.0,670.7 L1539.0,671.8 L1542.0,672.8 L1545.0,673.9 L1548.0,674.9 L1551.0,676.0 L1554.0,677.0 L1557.0,678.1 L1560.0,679.1 L1563.0,680.1 L1566.0,681.1 L1569.0,682.1 L1572.0,683.1 L1575.0,684.1 L1578.0,685.1 L1581.0,686.1 L1584.0,687.1 L1587.0,688.1 L1590.0,689.1 L1593.0,690.1 L1596.0,691.1 L1599.0,692.0 L1602.0,693.0 L1605.0,694.0 L1608.0,695.0 L1611.0,695.9 L1614.0,696.9 L1617.0,697.9 L1620.0,698.8 L1623.0,699.8 L1626.0,700.7 L1629.0,701.7 L1632.0,702.7 L1635.0,703.6 L1638.0,704.6 L1641.0,705.5 L1644.0,706.5 L1647.0,707.4 L1650.0,708.4 L1653.0,709.4 L1656.0,710.3 L1659.0,711.3 L1662.0,712.2 L1665.0,713.2 L1668.0,714.2 L1671.0,715.1 L1674.0,716.1 L1677.0,717.1 L1680.0,718.0 L1683.0,719.0 L1686.0,720.0 L1689.0,721.0 L1692.0,722.0 L1695.0,722.9 L1698.0,723.9 L1701.0,724.9 L1704.0,725.9 L1707.0,726.9 L1710.0,727.9 L1713.0,728.9 L1716.0,729.9 L1719.0,731.0 L1722.0,732.0 L1725.0,733.0 L1728.0,734.0 L1731.0,735.0 L1734.0,736.0 L1737.0,737.1 L1740.0,738.1 L1743.0,739.1 L1746.0,740.1 L1749.0,741.2 L1752.0,742.2 L1755.0,743.2 L1758.0,744.2 L1761.0,745.3 L1764.0,746.3 L1767.0,747.3 L1770.0,748.3 L1773.0,749.4 L1776.0,750.4 L1779.0,751.4 L1782.0,752.4 L1785.0,753.4 L1788.0,754.4 L1791.0,755.4 L1794.0,756.4 L1797.0,757.4 L1800.0,758.4 L1803.0,759.4 L1806.0,760.4 L1809.0,761.4 L1812.0,762.3 L1815.0,763.3 L1818.0,764.3 L1821.0,765.2 L1824.0,766.2 L1827.0,767.1 L1830.0,768.1 L1833.0,769.0 L1836.0,769.9 L1839.0,770.9 L1842.0,771.8 L1845.0,772.7 L1848.0,773.6 L1851.0,774.5 L1854.0,775.4 L1857.0,776.3 L1860.0,777.1 L1863.0,778.0 L1866.0,778.8 L1869.0,779.7 L1872.0,780.5 L1875.0,781.3 L1878.0,782.2 L1881.0,783.0 L1884.0,783.8 L1887.0,784.5 L1890.0,785.3 L1893.0,786.1 L1896.0,786.8 L1899.0,787.6 L1902.0,788.3 L1905.0,789.0 L1908.0,789.7 L1911.0,790.4 L1914.0,791.1 L1917.0,791.7 L1920.0,792.4 L1923.0,793.0 L1926.0,793.7 L1929.0,794.3 L1932.0,794.9 L1935.0,795.5 L1938.0,796.0 L1941.0,796.6 L1944.0,797.1 L1947.0,797.6 L1950.0,798.1 L1951.0,798.3" stroke="#357d40" stroke-width="5.8"/>
<path d="M420.0,412.7 L423.0,415.3 L426.0,417.7 L429.0,420.2 L432.0,422.6 L435.0,424.9 L438.0,427.2 L441.0,429.5 L444.0,431.7 L447.0,433.9 L450.0,436.1 L453.0,438.2 L456.0,440.2 L459.0,442.2 L462.0,444.2 L465.0,446.2 L468.0,448.1 L471.0,449.9 L474.0,451.7 L477.0,453.5 L480.0,455.3 L483.0,457.0 L486.0,458.7 L489.0,460.3 L492.0,461.9 L495.0,463.4 L498.0,464.9 L501.0,466.4 L504.0,467.9 L507.0,469.3 L510.0,470.6 L513.0,472.0 L516.0,473.3 L519.0,474.5 L522.0,475.8 L525.0,477.0 L528.0,478.1 L531.0,479.2 L534.0,480.3 L537.0,481.4 L540.0,482.4 L543.0,483.4 L546.0,484.4 L549.0,485.3 L552.0,486.2 L555.0,487.0 L558.0,487.8 L561.0,488.6 L564.0,489.4 L567.0,490.1 L570.0,490.8 L573.0,491.5 L576.0,492.1 L579.0,492.7 L582.0,493.3 L585.0,493.8 L588.0,494.3 L591.0,494.8 L594.0,495.3 L597.0,495.7 L600.0,496.1 L603.0,496.5 L606.0,496.8 L609.0,497.1 L612.0,497.4 L615.0,497.6 L618.0,497.9 L621.0,498.1 L624.0,498.2 L627.0,498.4 L630.0,498.5 L633.0,498.6 L636.0,498.6 L639.0,498.7 L642.0,498.7 L645.0,498.7 L648.0,498.6 L651.0,498.6 L654.0,498.5 L657.0,498.4 L660.0,498.2 L663.0,498.1 L666.0,497.9 L669.0,497.7 L672.0,497.5 L675.0,497.2 L678.0,497.0 L681.0,496.7 L684.0,496.4 L687.0,496.0 L690.0,495.7 L693.0,495.3 L696.0,495.0 L699.0,494.6 L702.0,494.1 L705.0,493.7 L708.0,493.3 L711.0,492.8 L714.0,492.3 L717.0,491.8 L720.0,491.3 L723.0,490.8 L726.0,490.3 L729.0,489.7 L732.0,489.1 L735.0,488.6 L738.0,488.0 L741.0,487.4 L744.0,486.8 L747.0,486.2 L750.0,485.5 L753.0,484.9 L756.0,484.3 L759.0,483.6 L762.0,482.9 L765.0,482.3 L768.0,481.6 L771.0,480.9 L774.0,480.2 L777.0,479.5 L780.0,478.8 L783.0,478.1 L786.0,477.4 L789.0,476.7 L792.0,476.0 L795.0,475.3 L798.0,474.6 L801.0,473.9 L804.0,473.2 L807.0,472.4 L810.0,471.7 L813.0,471.0 L816.0,470.3 L819.0,469.6 L822.0,468.8 L825.0,468.1 L828.0,467.4 L831.0,466.7 L834.0,466.0 L837.0,465.3 L840.0,464.6 L843.0,463.9 L846.0,463.2 L849.0,462.5 L852.0,461.9 L855.0,461.2 L858.0,460.5 L861.0,459.9 L864.0,459.2 L867.0,458.6 L870.0,458.0 L873.0,457.3 L876.0,456.7 L879.0,456.1 L882.0,455.6 L885.0,455.0 L888.0,454.4 L891.0,453.9 L894.0,453.3 L897.0,452.8 L900.0,452.3 L903.0,451.8 L906.0,451.3 L909.0,450.8 L912.0,450.4 L915.0,450.0 L918.0,449.5 L921.0,449.1 L924.0,448.8 L927.0,448.4 L930.0,448.0 L933.0,447.7 L936.0,447.4 L939.0,447.1 L942.0,446.8 L945.0,446.6 L948.0,446.4 L951.0,446.2 L954.0,446.0 L957.0,445.8 L960.0,445.7 L963.0,445.6 L966.0,445.5 L969.0,445.4 L972.0,445.4 L975.0,445.4 L978.0,445.4 L981.0,445.4 L984.0,445.5 L987.0,445.6 L990.0,445.7 L993.0,445.8 L996.0,446.0 L999.0,446.2 L1002.0,446.4 L1005.0,446.7 L1008.0,447.0 L1011.0,447.3 L1014.0,447.7 L1017.0,448.1 L1020.0,448.5 L1023.0,449.0 L1026.0,449.5 L1029.0,450.0 L1032.0,450.5 L1035.0,451.1 L1038.0,451.8 L1041.0,452.4 L1044.0,453.1 L1047.0,453.8 L1050.0,454.6 L1053.0,455.4 L1056.0,456.3 L1059.0,457.1 L1062.0,458.0 L1065.0,458.9 L1068.0,459.9 L1071.0,460.9 L1074.0,461.9 L1077.0,462.9 L1080.0,464.0 L1083.0,465.1 L1086.0,466.2 L1089.0,467.4 L1092.0,468.5 L1095.0,469.7 L1098.0,470.9 L1101.0,472.1 L1104.0,473.4 L1107.0,474.7 L1110.0,476.0 L1113.0,477.3 L1116.0,478.6 L1119.0,479.9 L1122.0,481.3 L1125.0,482.6 L1128.0,484.0 L1131.0,485.4 L1134.0,486.8 L1137.0,488.2 L1140.0,489.7 L1143.0,491.1 L1146.0,492.6 L1149.0,494.0 L1152.0,495.5 L1155.0,496.9 L1158.0,498.4 L1161.0,499.9 L1164.0,501.4 L1167.0,502.9 L1170.0,504.4 L1173.0,505.9 L1176.0,507.4 L1179.0,508.9 L1182.0,510.4 L1185.0,511.8 L1188.0,513.3 L1191.0,514.8 L1194.0,516.3 L1197.0,517.8 L1200.0,519.3 L1203.0,520.7 L1206.0,522.2 L1209.0,523.7 L1212.0,525.2 L1215.0,526.6 L1218.0,528.1 L1221.0,529.5 L1224.0,531.0 L1227.0,532.4 L1230.0,533.9 L1233.0,535.3 L1236.0,536.8 L1239.0,538.2 L1242.0,539.6 L1245.0,541.1 L1248.0,542.5 L1251.0,543.9 L1254.0,545.3 L1257.0,546.7 L1260.0,548.1 L1263.0,549.6 L1266.0,551.0 L1269.0,552.4 L1272.0,553.8 L1275.0,555.1 L1278.0,556.5 L1281.0,557.9 L1284.0,559.3 L1287.0,560.7 L1290.0,562.1 L1293.0,563.4 L1296.0,564.8 L1299.0,566.2 L1302.0,567.5 L1305.0,568.9 L1308.0,570.2 L1311.0,571.6 L1314.0,572.9 L1317.0,574.3 L1320.0,575.6 L1323.0,576.9 L1326.0,578.3 L1329.0,579.6 L1332.0,580.9 L1335.0,582.2 L1338.0,583.6 L1341.0,584.9 L1344.0,586.2 L1347.0,587.5 L1350.0,588.8 L1353.0,590.1 L1356.0,591.4 L1359.0,592.7 L1362.0,593.9 L1365.0,595.2 L1368.0,596.5 L1371.0,597.8 L1374.0,599.0 L1377.0,600.3 L1380.0,601.6 L1383.0,602.8 L1386.0,604.1 L1389.0,605.3 L1392.0,606.6 L1395.0,607.8 L1398.0,609.0 L1401.0,610.3 L1404.0,611.5 L1407.0,612.7 L1410.0,613.9 L1413.0,615.2 L1416.0,616.4 L1419.0,617.6 L1422.0,618.8 L1425.0,620.0 L1428.0,621.2 L1431.0,622.4 L1434.0,623.6 L1437.0,624.7 L1440.0,625.9 L1443.0,627.1 L1446.0,628.3 L1449.0,629.4 L1452.0,630.6 L1455.0,631.8 L1458.0,632.9 L1461.0,634.1 L1464.0,635.2 L1467.0,636.3 L1470.0,637.5 L1473.0,638.6 L1476.0,639.7 L1479.0,640.9 L1482.0,642.0 L1485.0,643.1 L1488.0,644.2 L1491.0,645.3 L1494.0,646.4 L1497.0,647.5 L1500.0,648.6 L1503.0,649.7 L1506.0,650.8 L1509.0,651.9 L1512.0,653.0 L1515.0,654.1 L1518.0,655.2 L1521.0,656.2 L1524.0,657.3 L1527.0,658.4 L1530.0,659.4 L1533.0,660.5 L1536.0,661.5 L1539.0,662.6 L1542.0,663.6 L1545.0,664.7 L1548.0,665.7 L1551.0,666.8 L1554.0,667.8 L1557.0,668.8 L1560.0,669.9 L1563.0,670.9 L1566.0,671.9 L1569.0,672.9 L1572.0,673.9 L1575.0,674.9 L1578.0,676.0 L1581.0,677.0 L1584.0,678.0 L1587.0,679.0 L1590.0,680.0 L1593.0,680.9 L1596.0,681.9 L1599.0,682.9 L1602.0,683.9 L1605.0,684.9 L1608.0,685.9 L1611.0,686.8 L1614.0,687.8 L1617.0,688.8 L1620.0,689.7 L1623.0,690.7 L1626.0,691.7 L1629.0,692.6 L1632.0,693.6 L1635.0,694.5 L1638.0,695.5 L1641.0,696.4 L1644.0,697.4 L1647.0,698.3 L1650.0,699.2 L1653.0,700.2 L1656.0,701.1 L1659.0,702.0 L1662.0,703.0 L1665.0,703.9 L1668.0,704.8 L1671.0,705.7 L1674.0,706.6 L1677.0,707.5 L1680.0,708.5 L1683.0,709.4 L1686.0,710.3 L1689.0,711.2 L1692.0,712.1 L1695.0,713.0 L1698.0,713.9 L1701.0,714.8 L1704.0,715.7 L1707.0,716.6 L1710.0,717.4 L1713.0,718.3 L1716.0,719.2 L1719.0,720.1 L1722.0,721.0 L1725.0,721.8 L1728.0,722.7 L1731.0,723.6 L1734.0,724.5 L1737.0,725.3 L1740.0,726.2 L1743.0,727.1 L1746.0,727.9 L1749.0,728.8 L1752.0,729.6 L1755.0,730.5 L1758.0,731.4 L1761.0,732.2 L1764.0,733.1 L1767.0,733.9 L1770.0,734.8 L1773.0,735.6 L1776.0,736.4 L1779.0,737.3 L1782.0,738.1 L1785.0,739.0 L1788.0,739.8 L1791.0,740.6 L1794.0,741.5 L1797.0,742.3 L1800.0,743.1 L1803.0,744.0 L1806.0,744.8 L1809.0,745.6 L1812.0,746.4 L1815.0,747.3 L1818.0,748.1 L1821.0,748.9 L1824.0,749.7 L1827.0,750.5 L1830.0,751.3 L1833.0,752.2 L1836.0,753.0 L1839.0,753.8 L1842.0,754.6 L1845.0,755.4 L1848.0,756.2 L1851.0,757.0 L1854.0,757.8 L1857.0,758.6 L1860.0,759.4 L1863.0,760.2 L1866.0,761.0 L1869.0,761.8 L1872.0,762.6 L1875.0,763.4 L1878.0,764.2 L1881.0,765.0 L1884.0,765.8 L1887.0,766.6 L1890.0,767.4 L1893.0,768.2 L1896.0,769.0 L1899.0,769.7 L1902.0,770.5 L1905.0,771.3 L1908.0,772.1 L1911.0,772.9 L1914.0,773.7 L1917.0,774.5 L1920.0,775.2 L1923.0,776.0 L1926.0,776.8 L1929.0,777.6 L1932.0,778.4 L1935.0,779.2 L1938.0,779.9 L1941.0,780.7 L1944.0,781.5 L1947.0,782.3 L1950.0,783.0 L1951.0,783.3" stroke="#2424b0" stroke-width="5.8"/>
<path d="M420.0,542.3 L423.0,544.7 L426.0,547.0 L429.0,549.3 L432.0,551.6 L435.0,553.8 L438.0,556.0 L441.0,558.1 L444.0,560.2 L447.0,562.3 L450.0,564.3 L453.0,566.2 L456.0,568.2 L459.0,570.0 L462.0,571.9 L465.0,573.7 L468.0,575.5 L471.0,577.2 L474.0,578.9 L477.0,580.5 L480.0,582.1 L483.0,583.7 L486.0,585.3 L489.0,586.8 L492.0,588.2 L495.0,589.7 L498.0,591.1 L501.0,592.4 L504.0,593.7 L507.0,595.0 L510.0,596.3 L513.0,597.5 L516.0,598.7 L519.0,599.8 L522.0,601.0 L525.0,602.0 L528.0,603.1 L531.0,604.1 L534.0,605.1 L537.0,606.1 L540.0,607.0 L543.0,607.9 L546.0,608.7 L549.0,609.6 L552.0,610.4 L555.0,611.2 L558.0,611.9 L561.0,612.6 L564.0,613.3 L567.0,614.0 L570.0,614.6 L573.0,615.2 L576.0,615.8 L579.0,616.3 L582.0,616.8 L585.0,617.3 L588.0,617.8 L591.0,618.3 L594.0,618.7 L597.0,619.1 L600.0,619.4 L603.0,619.8 L606.0,620.1 L609.0,620.4 L612.0,620.7 L615.0,620.9 L618.0,621.1 L621.0,621.3 L624.0,621.5 L627.0,621.7 L630.0,621.8 L633.0,622.0 L636.0,622.1 L639.0,622.1 L642.0,622.2 L645.0,622.2 L648.0,622.2 L651.0,622.2 L654.0,622.2 L657.0,622.2 L660.0,622.1 L663.0,622.1 L666.0,622.0 L669.0,621.9 L672.0,621.7 L675.0,621.6 L678.0,621.4 L681.0,621.3 L684.0,621.1 L687.0,620.9 L690.0,620.6 L693.0,620.4 L696.0,620.2 L699.0,619.9 L702.0,619.6 L705.0,619.3 L708.0,619.0 L711.0,618.7 L714.0,618.4 L717.0,618.1 L720.0,617.7 L723.0,617.3 L726.0,617.0 L729.0,616.6 L732.0,616.2 L735.0,615.8 L738.0,615.4 L741.0,615.0 L744.0,614.5 L747.0,614.1 L750.0,613.6 L753.0,613.2 L756.0,612.7 L759.0,612.2 L762.0,611.8 L765.0,611.3 L768.0,610.8 L771.0,610.3 L774.0,609.8 L777.0,609.3 L780.0,608.7 L783.0,608.2 L786.0,607.7 L789.0,607.2 L792.0,606.6 L795.0,606.1 L798.0,605.5 L801.0,605.0 L804.0,604.4 L807.0,603.9 L810.0,603.3 L813.0,602.8 L816.0,602.2 L819.0,601.6 L822.0,601.1 L825.0,600.5 L828.0,599.9 L831.0,599.4 L834.0,598.8 L837.0,598.2 L840.0,597.7 L843.0,597.1 L846.0,596.6 L849.0,596.0 L852.0,595.4 L855.0,594.9 L858.0,594.3 L861.0,593.8 L864.0,593.2 L867.0,592.7 L870.0,592.1 L873.0,591.6 L876.0,591.1 L879.0,590.5 L882.0,590.0 L885.0,589.5 L888.0,589.0 L891.0,588.5 L894.0,588.0 L897.0,587.5 L900.0,587.0 L903.0,586.5 L906.0,586.0 L909.0,585.6 L912.0,585.1 L915.0,584.7 L918.0,584.2 L921.0,583.8 L924.0,583.4 L927.0,582.9 L930.0,582.5 L933.0,582.1 L936.0,581.8 L939.0,581.4 L942.0,581.0 L945.0,580.7 L948.0,580.3 L951.0,580.0 L954.0,579.7 L957.0,579.4 L960.0,579.1 L963.0,578.8 L966.0,578.6 L969.0,578.3 L972.0,578.1 L975.0,577.9 L978.0,577.7 L981.0,577.5 L984.0,577.3 L987.0,577.1 L990.0,577.0 L993.0,576.9 L996.0,576.7 L999.0,576.7 L1002.0,576.6 L1005.0,576.5 L1008.0,576.5 L1011.0,576.4 L1014.0,576.4 L1017.0,576.4 L1020.0,576.5 L1023.0,576.5 L1026.0,576.6 L1029.0,576.6 L1032.0,576.7 L1035.0,576.8 L1038.0,576.9 L1041.0,577.1 L1044.0,577.2 L1047.0,577.4 L1050.0,577.5 L1053.0,577.7 L1056.0,577.9 L1059.0,578.1 L1062.0,578.4 L1065.0,578.6 L1068.0,578.9 L1071.0,579.1 L1074.0,579.4 L1077.0,579.7 L1080.0,580.0 L1083.0,580.3 L1086.0,580.7 L1089.0,581.0 L1092.0,581.3 L1095.0,581.7 L1098.0,582.1 L1101.0,582.5 L1104.0,582.9 L1107.0,583.3 L1110.0,583.7 L1113.0,584.1 L1116.0,584.6 L1119.0,585.0 L1122.0,585.5 L1125.0,585.9 L1128.0,586.4 L1131.0,586.9 L1134.0,587.4 L1137.0,587.9 L1140.0,588.4 L1143.0,588.9 L1146.0,589.4 L1149.0,590.0 L1152.0,590.5 L1155.0,591.1 L1158.0,591.6 L1161.0,592.2 L1164.0,592.8 L1167.0,593.3 L1170.0,593.9 L1173.0,594.5 L1176.0,595.1 L1179.0,595.7 L1182.0,596.3 L1185.0,596.9 L1188.0,597.5 L1191.0,598.2 L1194.0,598.8 L1197.0,599.4 L1200.0,600.1 L1203.0,600.7 L1206.0,601.3 L1209.0,602.0 L1212.0,602.6 L1215.0,603.3 L1218.0,604.0 L1221.0,604.6 L1224.0,605.3 L1227.0,606.0 L1230.0,606.6 L1233.0,607.3 L1236.0,608.0 L1239.0,608.6 L1242.0,609.3 L1245.0,610.0 L1248.0,610.7 L1251.0,611.4 L1254.0,612.0 L1257.0,612.7 L1260.0,613.4 L1263.0,614.1 L1266.0,614.8 L1269.0,615.4 L1272.0,616.1 L1275.0,616.8 L1278.0,617.5 L1281.0,618.2 L1284.0,618.8 L1287.0,619.5 L1290.0,620.2 L1293.0,620.9 L1296.0,621.5 L1299.0,622.2 L1302.0,622.9 L1305.0,623.5 L1308.0,624.2 L1311.0,624.8 L1314.0,625.5 L1317.0,626.1 L1320.0,626.8 L1323.0,627.4 L1326.0,628.1 L1329.0,628.7 L1332.0,629.3 L1335.0,630.0 L1338.0,630.6 L1341.0,631.2 L1344.0,631.8 L1347.0,632.4 L1350.0,633.0 L1353.0,633.6 L1356.0,634.2 L1359.0,634.8 L1362.0,635.3 L1365.0,635.9 L1368.0,636.5 L1371.0,637.0 L1374.0,637.6 L1377.0,638.1 L1380.0,638.6 L1383.0,639.2 L1386.0,639.7 L1389.0,640.2 L1392.0,640.7 L1395.0,641.2 L1398.0,641.7 L1401.0,642.2 L1404.0,642.7 L1407.0,643.2 L1410.0,643.6 L1413.0,644.1 L1416.0,644.6 L1419.0,645.1 L1422.0,645.5 L1425.0,646.0 L1428.0,646.4 L1431.0,646.9 L1434.0,647.4 L1437.0,647.8 L1440.0,648.3 L1443.0,648.7 L1446.0,649.2 L1449.0,649.6 L1452.0,650.1 L1455.0,650.5 L1458.0,651.0 L1461.0,651.4 L1464.0,651.9 L1467.0,652.3 L1470.0,652.8 L1473.0,653.3 L1476.0,653.7 L1479.0,654.2 L1482.0,654.6 L1485.0,655.1 L1488.0,655.6 L1491.0,656.1 L1494.0,656.5 L1497.0,657.0 L1500.0,657.5 L1503.0,658.0 L1506.0,658.5 L1509.0,659.0 L1512.0,659.5 L1515.0,660.0 L1518.0,660.5 L1521.0,661.0 L1524.0,661.6 L1527.0,662.1 L1530.0,662.6 L1533.0,663.2 L1536.0,663.7 L1539.0,664.3 L1542.0,664.8 L1545.0,665.4 L1548.0,666.0 L1551.0,666.5 L1554.0,667.1 L1557.0,667.7 L1560.0,668.3 L1563.0,668.9 L1566.0,669.5 L1569.0,670.1 L1572.0,670.7 L1575.0,671.3 L1578.0,672.0 L1581.0,672.6 L1584.0,673.2 L1587.0,673.8 L1590.0,674.5 L1593.0,675.1 L1596.0,675.8 L1599.0,676.4 L1602.0,677.1 L1605.0,677.7 L1608.0,678.4 L1611.0,679.0 L1614.0,679.7 L1617.0,680.4 L1620.0,681.0 L1623.0,681.7 L1626.0,682.4 L1629.0,683.1 L1632.0,683.8 L1635.0,684.4 L1638.0,685.1 L1641.0,685.8 L1644.0,686.5 L1647.0,687.2 L1650.0,687.9 L1653.0,688.6 L1656.0,689.3 L1659.0,690.0 L1662.0,690.7 L1665.0,691.4 L1668.0,692.1 L1671.0,692.9 L1674.0,693.6 L1677.0,694.3 L1680.0,695.0 L1683.0,695.7 L1686.0,696.4 L1689.0,697.2 L1692.0,697.9 L1695.0,698.6 L1698.0,699.3 L1701.0,700.0 L1704.0,700.8 L1707.0,701.5 L1710.0,702.2 L1713.0,702.9 L1716.0,703.7 L1719.0,704.4 L1722.0,705.1 L1725.0,705.8 L1728.0,706.6 L1731.0,707.3 L1734.0,708.0 L1737.0,708.7 L1740.0,709.5 L1743.0,710.2 L1746.0,710.9 L1749.0,711.6 L1752.0,712.3 L1755.0,713.1 L1758.0,713.8 L1761.0,714.5 L1764.0,715.2 L1767.0,715.9 L1770.0,716.6 L1773.0,717.4 L1776.0,718.1 L1779.0,718.8 L1782.0,719.5 L1785.0,720.2 L1788.0,720.9 L1791.0,721.6 L1794.0,722.3 L1797.0,723.0 L1800.0,723.7 L1803.0,724.4 L1806.0,725.1 L1809.0,725.8 L1812.0,726.4 L1815.0,727.1 L1818.0,727.8 L1821.0,728.5 L1824.0,729.1 L1827.0,729.8 L1830.0,730.4 L1833.0,731.1 L1836.0,731.7 L1839.0,732.4 L1842.0,733.0 L1845.0,733.6 L1848.0,734.2 L1851.0,734.9 L1854.0,735.5 L1857.0,736.1 L1860.0,736.6 L1863.0,737.2 L1866.0,737.8 L1869.0,738.4 L1872.0,738.9 L1875.0,739.5 L1878.0,740.0 L1881.0,740.5 L1884.0,741.0 L1887.0,741.5 L1890.0,742.0 L1893.0,742.5 L1896.0,743.0 L1899.0,743.5 L1902.0,743.9 L1905.0,744.3 L1908.0,744.8 L1911.0,745.2 L1914.0,745.6 L1917.0,746.0 L1920.0,746.4 L1923.0,746.7 L1926.0,747.1 L1929.0,747.4 L1932.0,747.7 L1935.0,748.0 L1938.0,748.3 L1941.0,748.6 L1944.0,748.9 L1947.0,749.1 L1950.0,749.3 L1951.0,749.4" stroke="#74a0cc" stroke-width="5.8"/>
<path d="M420.0,435.7 L423.0,438.4 L426.0,441.0 L429.0,443.6 L432.0,446.2 L435.0,448.7 L438.0,451.1 L441.0,453.5 L444.0,455.9 L447.0,458.2 L450.0,460.4 L453.0,462.6 L456.0,464.8 L459.0,466.9 L462.0,469.0 L465.0,471.0 L468.0,473.0 L471.0,474.9 L474.0,476.8 L477.0,478.6 L480.0,480.4 L483.0,482.2 L486.0,483.9 L489.0,485.6 L492.0,487.2 L495.0,488.8 L498.0,490.3 L501.0,491.8 L504.0,493.3 L507.0,494.7 L510.0,496.1 L513.0,497.4 L516.0,498.7 L519.0,500.0 L522.0,501.2 L525.0,502.4 L528.0,503.5 L531.0,504.7 L534.0,505.7 L537.0,506.8 L540.0,507.8 L543.0,508.7 L546.0,509.7 L549.0,510.5 L552.0,511.4 L555.0,512.2 L558.0,513.0 L561.0,513.8 L564.0,514.5 L567.0,515.2 L570.0,515.8 L573.0,516.5 L576.0,517.0 L579.0,517.6 L582.0,518.1 L585.0,518.6 L588.0,519.1 L591.0,519.5 L594.0,519.9 L597.0,520.3 L600.0,520.7 L603.0,521.0 L606.0,521.3 L609.0,521.6 L612.0,521.8 L615.0,522.0 L618.0,522.2 L621.0,522.4 L624.0,522.5 L627.0,522.6 L630.0,522.7 L633.0,522.7 L636.0,522.8 L639.0,522.8 L642.0,522.8 L645.0,522.7 L648.0,522.7 L651.0,522.6 L654.0,522.5 L657.0,522.3 L660.0,522.2 L663.0,522.0 L666.0,521.8 L669.0,521.6 L672.0,521.4 L675.0,521.1 L678.0,520.9 L681.0,520.6 L684.0,520.3 L687.0,519.9 L690.0,519.6 L693.0,519.2 L696.0,518.9 L699.0,518.5 L702.0,518.1 L705.0,517.6 L708.0,517.2 L711.0,516.7 L714.0,516.3 L717.0,515.8 L720.0,515.3 L723.0,514.8 L726.0,514.3 L729.0,513.7 L732.0,513.2 L735.0,512.6 L738.0,512.1 L741.0,511.5 L744.0,510.9 L747.0,510.3 L750.0,509.7 L753.0,509.1 L756.0,508.5 L759.0,507.8 L762.0,507.2 L765.0,506.5 L768.0,505.9 L771.0,505.2 L774.0,504.6 L777.0,503.9 L780.0,503.2 L783.0,502.6 L786.0,501.9 L789.0,501.2 L792.0,500.5 L795.0,499.8 L798.0,499.2 L801.0,498.5 L804.0,497.8 L807.0,497.1 L810.0,496.4 L813.0,495.7 L816.0,495.0 L819.0,494.3 L822.0,493.7 L825.0,493.0 L828.0,492.3 L831.0,491.6 L834.0,491.0 L837.0,490.3 L840.0,489.6 L843.0,489.0 L846.0,488.3 L849.0,487.7 L852.0,487.0 L855.0,486.4 L858.0,485.8 L861.0,485.2 L864.0,484.6 L867.0,484.0 L870.0,483.4 L873.0,482.8 L876.0,482.2 L879.0,481.7 L882.0,481.1 L885.0,480.6 L888.0,480.1 L891.0,479.5 L894.0,479.0 L897.0,478.6 L900.0,478.1 L903.0,477.6 L906.0,477.2 L909.0,476.8 L912.0,476.3 L915.0,476.0 L918.0,475.6 L921.0,475.2 L924.0,474.9 L927.0,474.5 L930.0,474.2 L933.0,473.9 L936.0,473.7 L939.0,473.4 L942.0,473.2 L945.0,473.0 L948.0,472.8 L951.0,472.6 L954.0,472.5 L957.0,472.4 L960.0,472.3 L963.0,472.2 L966.0,472.1 L969.0,472.1 L972.0,472.1 L975.0,472.1 L978.0,472.1 L981.0,472.2 L984.0,472.3 L987.0,472.4 L990.0,472.5 L993.0,472.7 L996.0,472.9 L999.0,473.1 L1002.0,473.3 L1005.0,473.5 L1008.0,473.8 L1011.0,474.1 L1014.0,474.4 L1017.0,474.7 L1020.0,475.0 L1023.0,475.4 L1026.0,475.8 L1029.0,476.2 L1032.0,476.7 L1035.0,477.1 L1038.0,477.6 L1041.0,478.1 L1044.0,478.6 L1047.0,479.2 L1050.0,479.7 L1053.0,480.3 L1056.0,480.9 L1059.0,481.5 L1062.0,482.2 L1065.0,482.8 L1068.0,483.5 L1071.0,484.2 L1074.0,484.9 L1077.0,485.7 L1080.0,486.4 L1083.0,487.2 L1086.0,488.0 L1089.0,488.8 L1092.0,489.7 L1095.0,490.5 L1098.0,491.4 L1101.0,492.3 L1104.0,493.2 L1107.0,494.1 L1110.0,495.1 L1113.0,496.0 L1116.0,497.0 L1119.0,498.0 L1122.0,499.0 L1125.0,500.0 L1128.0,501.0 L1131.0,502.1 L1134.0,503.1 L1137.0,504.2 L1140.0,505.3 L1143.0,506.4 L1146.0,507.5 L1149.0,508.6 L1152.0,509.7 L1155.0,510.8 L1158.0,512.0 L1161.0,513.2 L1164.0,514.3 L1167.0,515.5 L1170.0,516.7 L1173.0,517.9 L1176.0,519.1 L1179.0,520.3 L1182.0,521.5 L1185.0,522.7 L1188.0,524.0 L1191.0,525.2 L1194.0,526.4 L1197.0,527.7 L1200.0,528.9 L1203.0,530.2 L1206.0,531.5 L1209.0,532.7 L1212.0,534.0 L1215.0,535.3 L1218.0,536.6 L1221.0,537.8 L1224.0,539.1 L1227.0,540.4 L1230.0,541.7 L1233.0,543.0 L1236.0,544.3 L1239.0,545.6 L1242.0,546.8 L1245.0,548.1 L1248.0,549.4 L1251.0,550.7 L1254.0,552.0 L1257.0,553.3 L1260.0,554.6 L1263.0,555.8 L1266.0,557.1 L1269.0,558.4 L1272.0,559.7 L1275.0,560.9 L1278.0,562.2 L1281.0,563.4 L1284.0,564.7 L1287.0,565.9 L1290.0,567.2 L1293.0,568.4 L1296.0,569.7 L1299.0,570.9 L1302.0,572.1 L1305.0,573.3 L1308.0,574.5 L1311.0,575.7 L1314.0,576.9 L1317.0,578.1 L1320.0,579.3 L1323.0,580.5 L1326.0,581.6 L1329.0,582.8 L1332.0,584.0 L1335.0,585.1 L1338.0,586.3 L1341.0,587.4 L1344.0,588.6 L1347.0,589.7 L1350.0,590.9 L1353.0,592.0 L1356.0,593.1 L1359.0,594.2 L1362.0,595.4 L1365.0,596.5 L1368.0,597.6 L1371.0,598.7 L1374.0,599.8 L1377.0,600.9 L1380.0,602.0 L1383.0,603.1 L1386.0,604.2 L1389.0,605.3 L1392.0,606.3 L1395.0,607.4 L1398.0,608.5 L1401.0,609.6 L1404.0,610.6 L1407.0,611.7 L1410.0,612.8 L1413.0,613.8 L1416.0,614.9 L1419.0,615.9 L1422.0,617.0 L1425.0,618.0 L1428.0,619.1 L1431.0,620.1 L1434.0,621.2 L1437.0,622.2 L1440.0,623.2 L1443.0,624.3 L1446.0,625.3 L1449.0,626.3 L1452.0,627.4 L1455.0,628.4 L1458.0,629.4 L1461.0,630.4 L1464.0,631.5 L1467.0,632.5 L1470.0,633.5 L1473.0,634.5 L1476.0,635.5 L1479.0,636.6 L1482.0,637.6 L1485.0,638.6 L1488.0,639.6 L1491.0,640.6 L1494.0,641.6 L1497.0,642.6 L1500.0,643.6 L1503.0,644.6 L1506.0,645.7 L1509.0,646.7 L1512.0,647.7 L1515.0,648.7 L1518.0,649.7 L1521.0,650.7 L1524.0,651.7 L1527.0,652.7 L1530.0,653.7 L1533.0,654.7 L1536.0,655.7 L1539.0,656.7 L1542.0,657.7 L1545.0,658.7 L1548.0,659.7 L1551.0,660.7 L1554.0,661.7 L1557.0,662.7 L1560.0,663.7 L1563.0,664.8 L1566.0,665.8 L1569.0,666.8 L1572.0,667.8 L1575.0,668.7 L1578.0,669.7 L1581.0,670.7 L1584.0,671.7 L1587.0,672.7 L1590.0,673.7 L1593.0,674.7 L1596.0,675.7 L1599.0,676.7 L1602.0,677.7 L1605.0,678.7 L1608.0,679.7 L1611.0,680.6 L1614.0,681.6 L1617.0,682.6 L1620.0,683.6 L1623.0,684.6 L1626.0,685.5 L1629.0,686.5 L1632.0,687.5 L1635.0,688.5 L1638.0,689.4 L1641.0,690.4 L1644.0,691.4 L1647.0,692.3 L1650.0,693.3 L1653.0,694.2 L1656.0,695.2 L1659.0,696.2 L1662.0,697.1 L1665.0,698.1 L1668.0,699.0 L1671.0,700.0 L1674.0,700.9 L1677.0,701.8 L1680.0,702.8 L1683.0,703.7 L1686.0,704.6 L1689.0,705.6 L1692.0,706.5 L1695.0,707.4 L1698.0,708.4 L1701.0,709.3 L1704.0,710.2 L1707.0,711.1 L1710.0,712.0 L1713.0,712.9 L1716.0,713.8 L1719.0,714.7 L1722.0,715.6 L1725.0,716.5 L1728.0,717.4 L1731.0,718.3 L1734.0,719.2 L1737.0,720.1 L1740.0,721.0 L1743.0,721.8 L1746.0,722.7 L1749.0,723.6 L1752.0,724.4 L1755.0,725.3 L1758.0,726.2 L1761.0,727.0 L1764.0,727.9 L1767.0,728.7 L1770.0,729.5 L1773.0,730.4 L1776.0,731.2 L1779.0,732.0 L1782.0,732.9 L1785.0,733.7 L1788.0,734.5 L1791.0,735.3 L1794.0,736.1 L1797.0,736.9 L1800.0,737.7 L1803.0,738.5 L1806.0,739.3 L1809.0,740.1 L1812.0,740.9 L1815.0,741.7 L1818.0,742.5 L1821.0,743.2 L1824.0,744.0 L1827.0,744.7 L1830.0,745.5 L1833.0,746.2 L1836.0,747.0 L1839.0,747.7 L1842.0,748.5 L1845.0,749.2 L1848.0,749.9 L1851.0,750.6 L1854.0,751.4 L1857.0,752.1 L1860.0,752.8 L1863.0,753.5 L1866.0,754.2 L1869.0,754.8 L1872.0,755.5 L1875.0,756.2 L1878.0,756.9 L1881.0,757.5 L1884.0,758.2 L1887.0,758.9 L1890.0,759.5 L1893.0,760.1 L1896.0,760.8 L1899.0,761.4 L1902.0,762.0 L1905.0,762.7 L1908.0,763.3 L1911.0,763.9 L1914.0,764.5 L1917.0,765.1 L1920.0,765.7 L1923.0,766.2 L1926.0,766.8 L1929.0,767.4 L1932.0,767.9 L1935.0,768.5 L1938.0,769.1 L1941.0,769.6 L1944.0,770.1 L1947.0,770.7 L1950.0,771.2 L1951.0,771.4" stroke="#5c2070" stroke-width="5.8"/>
<path d="M420.0,504.4 L423.0,506.7 L426.0,509.0 L429.0,511.3 L432.0,513.5 L435.0,515.7 L438.0,517.9 L441.0,520.0 L444.0,522.0 L447.0,524.0 L450.0,526.0 L453.0,527.9 L456.0,529.8 L459.0,531.7 L462.0,533.5 L465.0,535.3 L468.0,537.0 L471.0,538.7 L474.0,540.4 L477.0,542.0 L480.0,543.6 L483.0,545.1 L486.0,546.6 L489.0,548.1 L492.0,549.6 L495.0,551.0 L498.0,552.3 L501.0,553.7 L504.0,555.0 L507.0,556.2 L510.0,557.5 L513.0,558.7 L516.0,559.8 L519.0,560.9 L522.0,562.0 L525.0,563.1 L528.0,564.1 L531.0,565.1 L534.0,566.1 L537.0,567.1 L540.0,568.0 L543.0,568.8 L546.0,569.7 L549.0,570.5 L552.0,571.3 L555.0,572.1 L558.0,572.8 L561.0,573.5 L564.0,574.2 L567.0,574.9 L570.0,575.5 L573.0,576.1 L576.0,576.7 L579.0,577.2 L582.0,577.7 L585.0,578.2 L588.0,578.7 L591.0,579.1 L594.0,579.6 L597.0,580.0 L600.0,580.3 L603.0,580.7 L606.0,581.0 L609.0,581.3 L612.0,581.6 L615.0,581.8 L618.0,582.1 L621.0,582.3 L624.0,582.5 L627.0,582.7 L630.0,582.8 L633.0,582.9 L636.0,583.0 L639.0,583.1 L642.0,583.2 L645.0,583.2 L648.0,583.2 L651.0,583.2 L654.0,583.2 L657.0,583.2 L660.0,583.1 L663.0,583.1 L666.0,583.0 L669.0,582.9 L672.0,582.8 L675.0,582.6 L678.0,582.5 L681.0,582.3 L684.0,582.1 L687.0,581.9 L690.0,581.7 L693.0,581.4 L696.0,581.2 L699.0,580.9 L702.0,580.6 L705.0,580.3 L708.0,580.0 L711.0,579.7 L714.0,579.3 L717.0,579.0 L720.0,578.6 L723.0,578.2 L726.0,577.8 L729.0,577.4 L732.0,577.0 L735.0,576.6 L738.0,576.2 L741.0,575.7 L744.0,575.3 L747.0,574.8 L750.0,574.3 L753.0,573.8 L756.0,573.3 L759.0,572.8 L762.0,572.3 L765.0,571.8 L768.0,571.3 L771.0,570.7 L774.0,570.2 L777.0,569.7 L780.0,569.1 L783.0,568.6 L786.0,568.0 L789.0,567.4 L792.0,566.9 L795.0,566.3 L798.0,565.7 L801.0,565.1 L804.0,564.5 L807.0,564.0 L810.0,563.4 L813.0,562.8 L816.0,562.2 L819.0,561.6 L822.0,561.0 L825.0,560.4 L828.0,559.8 L831.0,559.2 L834.0,558.6 L837.0,558.0 L840.0,557.4 L843.0,556.8 L846.0,556.2 L849.0,555.6 L852.0,555.0 L855.0,554.4 L858.0,553.9 L861.0,553.3 L864.0,552.7 L867.0,552.1 L870.0,551.6 L873.0,551.0 L876.0,550.4 L879.0,549.9 L882.0,549.3 L885.0,548.8 L888.0,548.3 L891.0,547.7 L894.0,547.2 L897.0,546.7 L900.0,546.2 L903.0,545.7 L906.0,545.2 L909.0,544.7 L912.0,544.3 L915.0,543.8 L918.0,543.3 L921.0,542.9 L924.0,542.5 L927.0,542.1 L930.0,541.6 L933.0,541.2 L936.0,540.9 L939.0,540.5 L942.0,540.1 L945.0,539.8 L948.0,539.5 L951.0,539.1 L954.0,538.8 L957.0,538.5 L960.0,538.3 L963.0,538.0 L966.0,537.7 L969.0,537.5 L972.0,537.3 L975.0,537.1 L978.0,536.9 L981.0,536.8 L984.0,536.6 L987.0,536.5 L990.0,536.4 L993.0,536.3 L996.0,536.2 L999.0,536.2 L1002.0,536.1 L1005.0,536.1 L1008.0,536.1 L1011.0,536.1 L1014.0,536.2 L1017.0,536.2 L1020.0,536.3 L1023.0,536.4 L1026.0,536.6 L1029.0,536.7 L1032.0,536.9 L1035.0,537.1 L1038.0,537.3 L1041.0,537.5 L1044.0,537.8 L1047.0,538.1 L1050.0,538.4 L1053.0,538.7 L1056.0,539.0 L1059.0,539.4 L1062.0,539.7 L1065.0,540.1 L1068.0,540.5 L1071.0,540.9 L1074.0,541.4 L1077.0,541.8 L1080.0,542.3 L1083.0,542.8 L1086.0,543.3 L1089.0,543.8 L1092.0,544.3 L1095.0,544.9 L1098.0,545.4 L1101.0,546.0 L1104.0,546.6 L1107.0,547.2 L1110.0,547.8 L1113.0,548.4 L1116.0,549.0 L1119.0,549.7 L1122.0,550.3 L1125.0,551.0 L1128.0,551.7 L1131.0,552.4 L1134.0,553.1 L1137.0,553.8 L1140.0,554.5 L1143.0,555.2 L1146.0,556.0 L1149.0,556.7 L1152.0,557.5 L1155.0,558.2 L1158.0,559.0 L1161.0,559.8 L1164.0,560.6 L1167.0,561.4 L1170.0,562.2 L1173.0,563.0 L1176.0,563.8 L1179.0,564.6 L1182.0,565.5 L1185.0,566.3 L1188.0,567.2 L1191.0,568.0 L1194.0,568.9 L1197.0,569.7 L1200.0,570.6 L1203.0,571.5 L1206.0,572.4 L1209.0,573.2 L1212.0,574.1 L1215.0,575.0 L1218.0,575.9 L1221.0,576.8 L1224.0,577.7 L1227.0,578.6 L1230.0,579.5 L1233.0,580.4 L1236.0,581.3 L1239.0,582.3 L1242.0,583.2 L1245.0,584.1 L1248.0,585.0 L1251.0,585.9 L1254.0,586.9 L1257.0,587.8 L1260.0,588.7 L1263.0,589.6 L1266.0,590.6 L1269.0,591.5 L1272.0,592.4 L1275.0,593.3 L1278.0,594.3 L1281.0,595.2 L1284.0,596.1 L1287.0,597.0 L1290.0,597.9 L1293.0,598.9 L1296.0,599.8 L1299.0,600.7 L1302.0,601.6 L1305.0,602.5 L1308.0,603.4 L1311.0,604.3 L1314.0,605.2 L1317.0,606.1 L1320.0,607.0 L1323.0,607.9 L1326.0,608.7 L1329.0,609.6 L1332.0,610.5 L1335.0,611.3 L1338.0,612.2 L1341.0,613.1 L1344.0,613.9 L1347.0,614.7 L1350.0,615.6 L1353.0,616.4 L1356.0,617.2 L1359.0,618.0 L1362.0,618.9 L1365.0,619.7 L1368.0,620.4 L1371.0,621.2 L1374.0,622.0 L1377.0,622.8 L1380.0,623.5 L1383.0,624.3 L1386.0,625.0 L1389.0,625.8 L1392.0,626.5 L1395.0,627.2 L1398.0,628.0 L1401.0,628.7 L1404.0,629.4 L1407.0,630.1 L1410.0,630.8 L1413.0,631.5 L1416.0,632.2 L1419.0,632.9 L1422.0,633.5 L1425.0,634.2 L1428.0,634.9 L1431.0,635.6 L1434.0,636.2 L1437.0,636.9 L1440.0,637.6 L1443.0,638.2 L1446.0,638.9 L1449.0,639.6 L1452.0,640.2 L1455.0,640.9 L1458.0,641.5 L1461.0,642.2 L1464.0,642.9 L1467.0,643.5 L1470.0,644.2 L1473.0,644.8 L1476.0,645.5 L1479.0,646.1 L1482.0,646.8 L1485.0,647.5 L1488.0,648.1 L1491.0,648.8 L1494.0,649.5 L1497.0,650.1 L1500.0,650.8 L1503.0,651.5 L1506.0,652.2 L1509.0,652.8 L1512.0,653.5 L1515.0,654.2 L1518.0,654.9 L1521.0,655.6 L1524.0,656.3 L1527.0,657.0 L1530.0,657.7 L1533.0,658.5 L1536.0,659.2 L1539.0,659.9 L1542.0,660.6 L1545.0,661.4 L1548.0,662.1 L1551.0,662.9 L1554.0,663.6 L1557.0,664.4 L1560.0,665.1 L1563.0,665.9 L1566.0,666.6 L1569.0,667.4 L1572.0,668.2 L1575.0,668.9 L1578.0,669.7 L1581.0,670.5 L1584.0,671.3 L1587.0,672.1 L1590.0,672.8 L1593.0,673.6 L1596.0,674.4 L1599.0,675.2 L1602.0,676.0 L1605.0,676.8 L1608.0,677.6 L1611.0,678.4 L1614.0,679.2 L1617.0,680.0 L1620.0,680.8 L1623.0,681.7 L1626.0,682.5 L1629.0,683.3 L1632.0,684.1 L1635.0,684.9 L1638.0,685.7 L1641.0,686.6 L1644.0,687.4 L1647.0,688.2 L1650.0,689.0 L1653.0,689.8 L1656.0,690.7 L1659.0,691.5 L1662.0,692.3 L1665.0,693.2 L1668.0,694.0 L1671.0,694.8 L1674.0,695.6 L1677.0,696.5 L1680.0,697.3 L1683.0,698.1 L1686.0,699.0 L1689.0,699.8 L1692.0,700.6 L1695.0,701.4 L1698.0,702.3 L1701.0,703.1 L1704.0,703.9 L1707.0,704.7 L1710.0,705.6 L1713.0,706.4 L1716.0,707.2 L1719.0,708.0 L1722.0,708.8 L1725.0,709.7 L1728.0,710.5 L1731.0,711.3 L1734.0,712.1 L1737.0,712.9 L1740.0,713.7 L1743.0,714.5 L1746.0,715.4 L1749.0,716.2 L1752.0,717.0 L1755.0,717.8 L1758.0,718.6 L1761.0,719.4 L1764.0,720.1 L1767.0,720.9 L1770.0,721.7 L1773.0,722.5 L1776.0,723.3 L1779.0,724.1 L1782.0,724.9 L1785.0,725.6 L1788.0,726.4 L1791.0,727.2 L1794.0,727.9 L1797.0,728.7 L1800.0,729.4 L1803.0,730.2 L1806.0,731.0 L1809.0,731.7 L1812.0,732.4 L1815.0,733.2 L1818.0,733.9 L1821.0,734.6 L1824.0,735.4 L1827.0,736.1 L1830.0,736.8 L1833.0,737.5 L1836.0,738.2 L1839.0,738.9 L1842.0,739.6 L1845.0,740.3 L1848.0,741.0 L1851.0,741.7 L1854.0,742.4 L1857.0,743.0 L1860.0,743.7 L1863.0,744.4 L1866.0,745.0 L1869.0,745.7 L1872.0,746.3 L1875.0,747.0 L1878.0,747.6 L1881.0,748.2 L1884.0,748.8 L1887.0,749.5 L1890.0,750.1 L1893.0,750.7 L1896.0,751.3 L1899.0,751.9 L1902.0,752.4 L1905.0,753.0 L1908.0,753.6 L1911.0,754.1 L1914.0,754.7 L1917.0,755.3 L1920.0,755.8 L1923.0,756.3 L1926.0,756.9 L1929.0,757.4 L1932.0,757.9 L1935.0,758.4 L1938.0,758.9 L1941.0,759.4 L1944.0,759.9 L1947.0,760.3 L1950.0,760.8 L1951.0,760.9" stroke="#8e8c4a" stroke-width="5.8"/>
<path d="M420.0,523.3 L423.0,525.6 L426.0,527.9 L429.0,530.2 L432.0,532.4 L435.0,534.6 L438.0,536.8 L441.0,538.9 L444.0,540.9 L447.0,542.9 L450.0,544.9 L453.0,546.8 L456.0,548.7 L459.0,550.6 L462.0,552.4 L465.0,554.1 L468.0,555.9 L471.0,557.6 L474.0,559.2 L477.0,560.8 L480.0,562.4 L483.0,563.9 L486.0,565.4 L489.0,566.9 L492.0,568.3 L495.0,569.7 L498.0,571.1 L501.0,572.4 L504.0,573.7 L507.0,574.9 L510.0,576.2 L513.0,577.3 L516.0,578.5 L519.0,579.6 L522.0,580.7 L525.0,581.7 L528.0,582.8 L531.0,583.7 L534.0,584.7 L537.0,585.6 L540.0,586.5 L543.0,587.4 L546.0,588.2 L549.0,589.0 L552.0,589.8 L555.0,590.5 L558.0,591.2 L561.0,591.9 L564.0,592.6 L567.0,593.2 L570.0,593.8 L573.0,594.4 L576.0,594.9 L579.0,595.4 L582.0,595.9 L585.0,596.4 L588.0,596.8 L591.0,597.2 L594.0,597.6 L597.0,598.0 L600.0,598.3 L603.0,598.6 L606.0,598.9 L609.0,599.2 L612.0,599.5 L615.0,599.7 L618.0,599.9 L621.0,600.1 L624.0,600.2 L627.0,600.4 L630.0,600.5 L633.0,600.6 L636.0,600.7 L639.0,600.7 L642.0,600.8 L645.0,600.8 L648.0,600.8 L651.0,600.8 L654.0,600.7 L657.0,600.7 L660.0,600.6 L663.0,600.5 L666.0,600.4 L669.0,600.3 L672.0,600.2 L675.0,600.0 L678.0,599.8 L681.0,599.7 L684.0,599.5 L687.0,599.3 L690.0,599.0 L693.0,598.8 L696.0,598.5 L699.0,598.3 L702.0,598.0 L705.0,597.7 L708.0,597.4 L711.0,597.1 L714.0,596.8 L717.0,596.4 L720.0,596.1 L723.0,595.7 L726.0,595.4 L729.0,595.0 L732.0,594.6 L735.0,594.2 L738.0,593.8 L741.0,593.4 L744.0,593.0 L747.0,592.6 L750.0,592.1 L753.0,591.7 L756.0,591.2 L759.0,590.8 L762.0,590.3 L765.0,589.8 L768.0,589.4 L771.0,588.9 L774.0,588.4 L777.0,587.9 L780.0,587.4 L783.0,586.9 L786.0,586.4 L789.0,585.9 L792.0,585.4 L795.0,584.8 L798.0,584.3 L801.0,583.8 L804.0,583.3 L807.0,582.7 L810.0,582.2 L813.0,581.7 L816.0,581.1 L819.0,580.6 L822.0,580.1 L825.0,579.5 L828.0,579.0 L831.0,578.4 L834.0,577.9 L837.0,577.4 L840.0,576.8 L843.0,576.3 L846.0,575.7 L849.0,575.2 L852.0,574.7 L855.0,574.1 L858.0,573.6 L861.0,573.1 L864.0,572.6 L867.0,572.1 L870.0,571.5 L873.0,571.0 L876.0,570.5 L879.0,570.0 L882.0,569.5 L885.0,569.0 L888.0,568.6 L891.0,568.1 L894.0,567.6 L897.0,567.1 L900.0,566.7 L903.0,566.2 L906.0,565.8 L909.0,565.3 L912.0,564.9 L915.0,564.5 L918.0,564.1 L921.0,563.6 L924.0,563.2 L927.0,562.9 L930.0,562.5 L933.0,562.1 L936.0,561.7 L939.0,561.4 L942.0,561.1 L945.0,560.7 L948.0,560.4 L951.0,560.1 L954.0,559.8 L957.0,559.5 L960.0,559.3 L963.0,559.0 L966.0,558.8 L969.0,558.5 L972.0,558.3 L975.0,558.1 L978.0,557.9 L981.0,557.7 L984.0,557.6 L987.0,557.4 L990.0,557.3 L993.0,557.2 L996.0,557.1 L999.0,557.0 L1002.0,556.9 L1005.0,556.9 L1008.0,556.8 L1011.0,556.8 L1014.0,556.8 L1017.0,556.8 L1020.0,556.9 L1023.0,556.9 L1026.0,557.0 L1029.0,557.1 L1032.0,557.2 L1035.0,557.3 L1038.0,557.5 L1041.0,557.6 L1044.0,557.8 L1047.0,558.0 L1050.0,558.2 L1053.0,558.4 L1056.0,558.7 L1059.0,558.9 L1062.0,559.2 L1065.0,559.5 L1068.0,559.8 L1071.0,560.1 L1074.0,560.4 L1077.0,560.8 L1080.0,561.2 L1083.0,561.5 L1086.0,561.9 L1089.0,562.3 L1092.0,562.7 L1095.0,563.2 L1098.0,563.6 L1101.0,564.0 L1104.0,564.5 L1107.0,565.0 L1110.0,565.5 L1113.0,566.0 L1116.0,566.5 L1119.0,567.0 L1122.0,567.5 L1125.0,568.1 L1128.0,568.6 L1131.0,569.2 L1134.0,569.8 L1137.0,570.3 L1140.0,570.9 L1143.0,571.5 L1146.0,572.2 L1149.0,572.8 L1152.0,573.4 L1155.0,574.0 L1158.0,574.7 L1161.0,575.3 L1164.0,576.0 L1167.0,576.7 L1170.0,577.3 L1173.0,578.0 L1176.0,578.7 L1179.0,579.4 L1182.0,580.1 L1185.0,580.8 L1188.0,581.5 L1191.0,582.2 L1194.0,583.0 L1197.0,583.7 L1200.0,584.4 L1203.0,585.2 L1206.0,585.9 L1209.0,586.7 L1212.0,587.4 L1215.0,588.2 L1218.0,589.0 L1221.0,589.7 L1224.0,590.5 L1227.0,591.3 L1230.0,592.0 L1233.0,592.8 L1236.0,593.6 L1239.0,594.4 L1242.0,595.2 L1245.0,596.0 L1248.0,596.8 L1251.0,597.6 L1254.0,598.4 L1257.0,599.2 L1260.0,600.0 L1263.0,600.7 L1266.0,601.5 L1269.0,602.3 L1272.0,603.1 L1275.0,603.9 L1278.0,604.7 L1281.0,605.5 L1284.0,606.3 L1287.0,607.1 L1290.0,607.9 L1293.0,608.7 L1296.0,609.5 L1299.0,610.3 L1302.0,611.1 L1305.0,611.9 L1308.0,612.7 L1311.0,613.5 L1314.0,614.2 L1317.0,615.0 L1320.0,615.8 L1323.0,616.6 L1326.0,617.3 L1329.0,618.1 L1332.0,618.8 L1335.0,619.6 L1338.0,620.3 L1341.0,621.1 L1344.0,621.8 L1347.0,622.6 L1350.0,623.3 L1353.0,624.0 L1356.0,624.7 L1359.0,625.4 L1362.0,626.2 L1365.0,626.9 L1368.0,627.5 L1371.0,628.2 L1374.0,628.9 L1377.0,629.6 L1380.0,630.3 L1383.0,630.9 L1386.0,631.6 L1389.0,632.2 L1392.0,632.9 L1395.0,633.5 L1398.0,634.1 L1401.0,634.8 L1404.0,635.4 L1407.0,636.0 L1410.0,636.6 L1413.0,637.2 L1416.0,637.8 L1419.0,638.4 L1422.0,639.1 L1425.0,639.6 L1428.0,640.2 L1431.0,640.8 L1434.0,641.4 L1437.0,642.0 L1440.0,642.6 L1443.0,643.2 L1446.0,643.8 L1449.0,644.4 L1452.0,644.9 L1455.0,645.5 L1458.0,646.1 L1461.0,646.7 L1464.0,647.3 L1467.0,647.9 L1470.0,648.4 L1473.0,649.0 L1476.0,649.6 L1479.0,650.2 L1482.0,650.8 L1485.0,651.4 L1488.0,652.0 L1491.0,652.6 L1494.0,653.1 L1497.0,653.7 L1500.0,654.3 L1503.0,654.9 L1506.0,655.6 L1509.0,656.2 L1512.0,656.8 L1515.0,657.4 L1518.0,658.0 L1521.0,658.7 L1524.0,659.3 L1527.0,659.9 L1530.0,660.6 L1533.0,661.2 L1536.0,661.9 L1539.0,662.5 L1542.0,663.2 L1545.0,663.8 L1548.0,664.5 L1551.0,665.2 L1554.0,665.8 L1557.0,666.5 L1560.0,667.2 L1563.0,667.9 L1566.0,668.6 L1569.0,669.3 L1572.0,670.0 L1575.0,670.7 L1578.0,671.4 L1581.0,672.1 L1584.0,672.8 L1587.0,673.5 L1590.0,674.2 L1593.0,674.9 L1596.0,675.6 L1599.0,676.3 L1602.0,677.1 L1605.0,677.8 L1608.0,678.5 L1611.0,679.3 L1614.0,680.0 L1617.0,680.7 L1620.0,681.5 L1623.0,682.2 L1626.0,682.9 L1629.0,683.7 L1632.0,684.4 L1635.0,685.2 L1638.0,685.9 L1641.0,686.7 L1644.0,687.4 L1647.0,688.2 L1650.0,688.9 L1653.0,689.7 L1656.0,690.5 L1659.0,691.2 L1662.0,692.0 L1665.0,692.7 L1668.0,693.5 L1671.0,694.2 L1674.0,695.0 L1677.0,695.8 L1680.0,696.5 L1683.0,697.3 L1686.0,698.1 L1689.0,698.8 L1692.0,699.6 L1695.0,700.4 L1698.0,701.1 L1701.0,701.9 L1704.0,702.6 L1707.0,703.4 L1710.0,704.2 L1713.0,704.9 L1716.0,705.7 L1719.0,706.5 L1722.0,707.2 L1725.0,708.0 L1728.0,708.7 L1731.0,709.5 L1734.0,710.3 L1737.0,711.0 L1740.0,711.8 L1743.0,712.5 L1746.0,713.3 L1749.0,714.0 L1752.0,714.8 L1755.0,715.5 L1758.0,716.3 L1761.0,717.0 L1764.0,717.8 L1767.0,718.5 L1770.0,719.2 L1773.0,720.0 L1776.0,720.7 L1779.0,721.5 L1782.0,722.2 L1785.0,722.9 L1788.0,723.6 L1791.0,724.4 L1794.0,725.1 L1797.0,725.8 L1800.0,726.5 L1803.0,727.2 L1806.0,728.0 L1809.0,728.7 L1812.0,729.4 L1815.0,730.1 L1818.0,730.8 L1821.0,731.5 L1824.0,732.2 L1827.0,732.9 L1830.0,733.5 L1833.0,734.2 L1836.0,734.9 L1839.0,735.6 L1842.0,736.3 L1845.0,736.9 L1848.0,737.6 L1851.0,738.2 L1854.0,738.9 L1857.0,739.6 L1860.0,740.2 L1863.0,740.8 L1866.0,741.5 L1869.0,742.1 L1872.0,742.7 L1875.0,743.4 L1878.0,744.0 L1881.0,744.6 L1884.0,745.2 L1887.0,745.8 L1890.0,746.4 L1893.0,747.0 L1896.0,747.6 L1899.0,748.2 L1902.0,748.8 L1905.0,749.4 L1908.0,749.9 L1911.0,750.5 L1914.0,751.0 L1917.0,751.6 L1920.0,752.1 L1923.0,752.7 L1926.0,753.2 L1929.0,753.7 L1932.0,754.3 L1935.0,754.8 L1938.0,755.3 L1941.0,755.8 L1944.0,756.3 L1947.0,756.8 L1950.0,757.3 L1951.0,757.4" stroke="#c85a8c" stroke-width="5.8"/>
<path d="M420.0,482.4 L423.0,484.7 L426.0,487.0 L429.0,489.3 L432.0,491.5 L435.0,493.7 L438.0,495.9 L441.0,498.0 L444.0,500.1 L447.0,502.2 L450.0,504.2 L453.0,506.2 L456.0,508.2 L459.0,510.1 L462.0,512.0 L465.0,513.9 L468.0,515.7 L471.0,517.5 L474.0,519.2 L477.0,520.9 L480.0,522.6 L483.0,524.3 L486.0,525.9 L489.0,527.4 L492.0,529.0 L495.0,530.5 L498.0,531.9 L501.0,533.4 L504.0,534.7 L507.0,536.1 L510.0,537.4 L513.0,538.7 L516.0,539.9 L519.0,541.2 L522.0,542.3 L525.0,543.5 L528.0,544.6 L531.0,545.7 L534.0,546.7 L537.0,547.7 L540.0,548.7 L543.0,549.6 L546.0,550.5 L549.0,551.4 L552.0,552.2 L555.0,553.0 L558.0,553.8 L561.0,554.6 L564.0,555.3 L567.0,556.0 L570.0,556.6 L573.0,557.2 L576.0,557.8 L579.0,558.4 L582.0,558.9 L585.0,559.4 L588.0,559.9 L591.0,560.3 L594.0,560.7 L597.0,561.1 L600.0,561.5 L603.0,561.8 L606.0,562.2 L609.0,562.4 L612.0,562.7 L615.0,562.9 L618.0,563.1 L621.0,563.3 L624.0,563.5 L627.0,563.6 L630.0,563.8 L633.0,563.9 L636.0,563.9 L639.0,564.0 L642.0,564.0 L645.0,564.0 L648.0,564.0 L651.0,564.0 L654.0,563.9 L657.0,563.9 L660.0,563.8 L663.0,563.7 L666.0,563.6 L669.0,563.4 L672.0,563.3 L675.0,563.1 L678.0,562.9 L681.0,562.7 L684.0,562.4 L687.0,562.2 L690.0,561.9 L693.0,561.7 L696.0,561.4 L699.0,561.0 L702.0,560.7 L705.0,560.4 L708.0,560.0 L711.0,559.6 L714.0,559.3 L717.0,558.9 L720.0,558.4 L723.0,558.0 L726.0,557.6 L729.0,557.1 L732.0,556.7 L735.0,556.2 L738.0,555.7 L741.0,555.2 L744.0,554.7 L747.0,554.2 L750.0,553.6 L753.0,553.1 L756.0,552.6 L759.0,552.0 L762.0,551.4 L765.0,550.9 L768.0,550.3 L771.0,549.7 L774.0,549.1 L777.0,548.5 L780.0,547.9 L783.0,547.3 L786.0,546.7 L789.0,546.1 L792.0,545.5 L795.0,544.9 L798.0,544.2 L801.0,543.6 L804.0,543.0 L807.0,542.3 L810.0,541.7 L813.0,541.1 L816.0,540.4 L819.0,539.8 L822.0,539.1 L825.0,538.5 L828.0,537.9 L831.0,537.2 L834.0,536.6 L837.0,536.0 L840.0,535.3 L843.0,534.7 L846.0,534.1 L849.0,533.4 L852.0,532.8 L855.0,532.2 L858.0,531.6 L861.0,531.0 L864.0,530.4 L867.0,529.8 L870.0,529.2 L873.0,528.6 L876.0,528.1 L879.0,527.5 L882.0,526.9 L885.0,526.4 L888.0,525.8 L891.0,525.3 L894.0,524.8 L897.0,524.3 L900.0,523.8 L903.0,523.3 L906.0,522.8 L909.0,522.3 L912.0,521.8 L915.0,521.4 L918.0,521.0 L921.0,520.5 L924.0,520.1 L927.0,519.7 L930.0,519.3 L933.0,519.0 L936.0,518.6 L939.0,518.3 L942.0,518.0 L945.0,517.6 L948.0,517.4 L951.0,517.1 L954.0,516.8 L957.0,516.6 L960.0,516.4 L963.0,516.2 L966.0,516.0 L969.0,515.8 L972.0,515.7 L975.0,515.5 L978.0,515.4 L981.0,515.3 L984.0,515.3 L987.0,515.2 L990.0,515.2 L993.0,515.2 L996.0,515.2 L999.0,515.3 L1002.0,515.3 L1005.0,515.4 L1008.0,515.5 L1011.0,515.7 L1014.0,515.8 L1017.0,516.0 L1020.0,516.2 L1023.0,516.4 L1026.0,516.7 L1029.0,517.0 L1032.0,517.2 L1035.0,517.6 L1038.0,517.9 L1041.0,518.2 L1044.0,518.6 L1047.0,519.0 L1050.0,519.4 L1053.0,519.8 L1056.0,520.2 L1059.0,520.7 L1062.0,521.2 L1065.0,521.7 L1068.0,522.2 L1071.0,522.7 L1074.0,523.2 L1077.0,523.8 L1080.0,524.4 L1083.0,524.9 L1086.0,525.5 L1089.0,526.2 L1092.0,526.8 L1095.0,527.4 L1098.0,528.1 L1101.0,528.7 L1104.0,529.4 L1107.0,530.1 L1110.0,530.8 L1113.0,531.5 L1116.0,532.3 L1119.0,533.0 L1122.0,533.8 L1125.0,534.5 L1128.0,535.3 L1131.0,536.1 L1134.0,536.9 L1137.0,537.7 L1140.0,538.5 L1143.0,539.3 L1146.0,540.1 L1149.0,541.0 L1152.0,541.8 L1155.0,542.7 L1158.0,543.5 L1161.0,544.4 L1164.0,545.3 L1167.0,546.2 L1170.0,547.0 L1173.0,547.9 L1176.0,548.8 L1179.0,549.8 L1182.0,550.7 L1185.0,551.6 L1188.0,552.5 L1191.0,553.5 L1194.0,554.4 L1197.0,555.4 L1200.0,556.3 L1203.0,557.3 L1206.0,558.2 L1209.0,559.2 L1212.0,560.2 L1215.0,561.1 L1218.0,562.1 L1221.0,563.1 L1224.0,564.1 L1227.0,565.1 L1230.0,566.0 L1233.0,567.0 L1236.0,568.0 L1239.0,569.0 L1242.0,570.0 L1245.0,571.0 L1248.0,572.0 L1251.0,573.0 L1254.0,574.0 L1257.0,575.0 L1260.0,576.1 L1263.0,577.1 L1266.0,578.1 L1269.0,579.1 L1272.0,580.1 L1275.0,581.1 L1278.0,582.1 L1281.0,583.1 L1284.0,584.1 L1287.0,585.1 L1290.0,586.1 L1293.0,587.1 L1296.0,588.1 L1299.0,589.1 L1302.0,590.1 L1305.0,591.1 L1308.0,592.1 L1311.0,593.1 L1314.0,594.1 L1317.0,595.1 L1320.0,596.1 L1323.0,597.0 L1326.0,598.0 L1329.0,599.0 L1332.0,600.0 L1335.0,600.9 L1338.0,601.9 L1341.0,602.8 L1344.0,603.8 L1347.0,604.7 L1350.0,605.7 L1353.0,606.6 L1356.0,607.5 L1359.0,608.4 L1362.0,609.3 L1365.0,610.2 L1368.0,611.1 L1371.0,612.0 L1374.0,612.9 L1377.0,613.8 L1380.0,614.7 L1383.0,615.5 L1386.0,616.4 L1389.0,617.3 L1392.0,618.1 L1395.0,619.0 L1398.0,619.8 L1401.0,620.6 L1404.0,621.4 L1407.0,622.3 L1410.0,623.1 L1413.0,623.9 L1416.0,624.7 L1419.0,625.5 L1422.0,626.3 L1425.0,627.1 L1428.0,627.9 L1431.0,628.7 L1434.0,629.5 L1437.0,630.3 L1440.0,631.1 L1443.0,631.9 L1446.0,632.7 L1449.0,633.4 L1452.0,634.2 L1455.0,635.0 L1458.0,635.8 L1461.0,636.5 L1464.0,637.3 L1467.0,638.1 L1470.0,638.9 L1473.0,639.6 L1476.0,640.4 L1479.0,641.2 L1482.0,642.0 L1485.0,642.8 L1488.0,643.5 L1491.0,644.3 L1494.0,645.1 L1497.0,645.9 L1500.0,646.7 L1503.0,647.4 L1506.0,648.2 L1509.0,649.0 L1512.0,649.8 L1515.0,650.6 L1518.0,651.4 L1521.0,652.2 L1524.0,653.0 L1527.0,653.8 L1530.0,654.7 L1533.0,655.5 L1536.0,656.3 L1539.0,657.1 L1542.0,657.9 L1545.0,658.8 L1548.0,659.6 L1551.0,660.4 L1554.0,661.3 L1557.0,662.1 L1560.0,663.0 L1563.0,663.8 L1566.0,664.7 L1569.0,665.5 L1572.0,666.4 L1575.0,667.2 L1578.0,668.1 L1581.0,668.9 L1584.0,669.8 L1587.0,670.6 L1590.0,671.5 L1593.0,672.4 L1596.0,673.2 L1599.0,674.1 L1602.0,675.0 L1605.0,675.8 L1608.0,676.7 L1611.0,677.6 L1614.0,678.5 L1617.0,679.3 L1620.0,680.2 L1623.0,681.1 L1626.0,682.0 L1629.0,682.8 L1632.0,683.7 L1635.0,684.6 L1638.0,685.5 L1641.0,686.4 L1644.0,687.2 L1647.0,688.1 L1650.0,689.0 L1653.0,689.9 L1656.0,690.8 L1659.0,691.6 L1662.0,692.5 L1665.0,693.4 L1668.0,694.3 L1671.0,695.1 L1674.0,696.0 L1677.0,696.9 L1680.0,697.8 L1683.0,698.6 L1686.0,699.5 L1689.0,700.4 L1692.0,701.3 L1695.0,702.1 L1698.0,703.0 L1701.0,703.9 L1704.0,704.7 L1707.0,705.6 L1710.0,706.5 L1713.0,707.3 L1716.0,708.2 L1719.0,709.0 L1722.0,709.9 L1725.0,710.7 L1728.0,711.6 L1731.0,712.4 L1734.0,713.3 L1737.0,714.1 L1740.0,715.0 L1743.0,715.8 L1746.0,716.6 L1749.0,717.5 L1752.0,718.3 L1755.0,719.1 L1758.0,719.9 L1761.0,720.8 L1764.0,721.6 L1767.0,722.4 L1770.0,723.2 L1773.0,724.0 L1776.0,724.8 L1779.0,725.6 L1782.0,726.4 L1785.0,727.2 L1788.0,728.0 L1791.0,728.8 L1794.0,729.6 L1797.0,730.4 L1800.0,731.1 L1803.0,731.9 L1806.0,732.7 L1809.0,733.4 L1812.0,734.2 L1815.0,734.9 L1818.0,735.7 L1821.0,736.4 L1824.0,737.2 L1827.0,737.9 L1830.0,738.6 L1833.0,739.3 L1836.0,740.1 L1839.0,740.8 L1842.0,741.5 L1845.0,742.2 L1848.0,742.9 L1851.0,743.6 L1854.0,744.2 L1857.0,744.9 L1860.0,745.6 L1863.0,746.3 L1866.0,746.9 L1869.0,747.6 L1872.0,748.2 L1875.0,748.9 L1878.0,749.5 L1881.0,750.1 L1884.0,750.8 L1887.0,751.4 L1890.0,752.0 L1893.0,752.6 L1896.0,753.2 L1899.0,753.8 L1902.0,754.4 L1905.0,754.9 L1908.0,755.5 L1911.0,756.1 L1914.0,756.6 L1917.0,757.2 L1920.0,757.7 L1923.0,758.2 L1926.0,758.8 L1929.0,759.3 L1932.0,759.8 L1935.0,760.3 L1938.0,760.8 L1941.0,761.3 L1944.0,761.7 L1947.0,762.2 L1950.0,762.7 L1951.0,762.8" stroke="#e0965a" stroke-width="5.8"/>
<path d="M420.0,460.1 L423.0,462.6 L426.0,465.0 L429.0,467.4 L432.0,469.7 L435.0,472.0 L438.0,474.3 L441.0,476.5 L444.0,478.7 L447.0,480.8 L450.0,482.9 L453.0,485.0 L456.0,487.0 L459.0,488.9 L462.0,490.9 L465.0,492.8 L468.0,494.6 L471.0,496.4 L474.0,498.2 L477.0,499.9 L480.0,501.6 L483.0,503.3 L486.0,504.9 L489.0,506.5 L492.0,508.0 L495.0,509.5 L498.0,511.0 L501.0,512.4 L504.0,513.8 L507.0,515.2 L510.0,516.5 L513.0,517.8 L516.0,519.1 L519.0,520.3 L522.0,521.5 L525.0,522.6 L528.0,523.8 L531.0,524.8 L534.0,525.9 L537.0,526.9 L540.0,527.9 L543.0,528.8 L546.0,529.8 L549.0,530.7 L552.0,531.5 L555.0,532.3 L558.0,533.1 L561.0,533.9 L564.0,534.6 L567.0,535.3 L570.0,536.0 L573.0,536.7 L576.0,537.3 L579.0,537.9 L582.0,538.4 L585.0,539.0 L588.0,539.5 L591.0,539.9 L594.0,540.4 L597.0,540.8 L600.0,541.2 L603.0,541.6 L606.0,541.9 L609.0,542.2 L612.0,542.5 L615.0,542.8 L618.0,543.0 L621.0,543.2 L624.0,543.4 L627.0,543.6 L630.0,543.7 L633.0,543.8 L636.0,543.9 L639.0,544.0 L642.0,544.1 L645.0,544.1 L648.0,544.1 L651.0,544.1 L654.0,544.0 L657.0,544.0 L660.0,543.9 L663.0,543.8 L666.0,543.7 L669.0,543.5 L672.0,543.4 L675.0,543.2 L678.0,543.0 L681.0,542.8 L684.0,542.5 L687.0,542.3 L690.0,542.0 L693.0,541.7 L696.0,541.4 L699.0,541.1 L702.0,540.7 L705.0,540.3 L708.0,540.0 L711.0,539.6 L714.0,539.2 L717.0,538.7 L720.0,538.3 L723.0,537.9 L726.0,537.4 L729.0,536.9 L732.0,536.4 L735.0,535.9 L738.0,535.4 L741.0,534.9 L744.0,534.3 L747.0,533.8 L750.0,533.2 L753.0,532.7 L756.0,532.1 L759.0,531.5 L762.0,530.9 L765.0,530.3 L768.0,529.7 L771.0,529.1 L774.0,528.5 L777.0,527.8 L780.0,527.2 L783.0,526.5 L786.0,525.9 L789.0,525.2 L792.0,524.6 L795.0,523.9 L798.0,523.3 L801.0,522.6 L804.0,521.9 L807.0,521.3 L810.0,520.6 L813.0,519.9 L816.0,519.2 L819.0,518.6 L822.0,517.9 L825.0,517.2 L828.0,516.5 L831.0,515.9 L834.0,515.2 L837.0,514.5 L840.0,513.9 L843.0,513.2 L846.0,512.5 L849.0,511.9 L852.0,511.2 L855.0,510.6 L858.0,509.9 L861.0,509.3 L864.0,508.7 L867.0,508.1 L870.0,507.4 L873.0,506.8 L876.0,506.2 L879.0,505.6 L882.0,505.0 L885.0,504.5 L888.0,503.9 L891.0,503.3 L894.0,502.8 L897.0,502.3 L900.0,501.7 L903.0,501.2 L906.0,500.7 L909.0,500.2 L912.0,499.8 L915.0,499.3 L918.0,498.8 L921.0,498.4 L924.0,498.0 L927.0,497.6 L930.0,497.2 L933.0,496.8 L936.0,496.5 L939.0,496.1 L942.0,495.8 L945.0,495.5 L948.0,495.2 L951.0,494.9 L954.0,494.7 L957.0,494.4 L960.0,494.2 L963.0,494.0 L966.0,493.8 L969.0,493.7 L972.0,493.6 L975.0,493.5 L978.0,493.4 L981.0,493.3 L984.0,493.3 L987.0,493.2 L990.0,493.2 L993.0,493.3 L996.0,493.3 L999.0,493.4 L1002.0,493.5 L1005.0,493.6 L1008.0,493.7 L1011.0,493.9 L1014.0,494.1 L1017.0,494.3 L1020.0,494.5 L1023.0,494.7 L1026.0,495.0 L1029.0,495.3 L1032.0,495.6 L1035.0,496.0 L1038.0,496.3 L1041.0,496.7 L1044.0,497.1 L1047.0,497.5 L1050.0,497.9 L1053.0,498.4 L1056.0,498.9 L1059.0,499.4 L1062.0,499.9 L1065.0,500.5 L1068.0,501.0 L1071.0,501.6 L1074.0,502.2 L1077.0,502.9 L1080.0,503.5 L1083.0,504.2 L1086.0,504.9 L1089.0,505.6 L1092.0,506.3 L1095.0,507.1 L1098.0,507.8 L1101.0,508.6 L1104.0,509.4 L1107.0,510.2 L1110.0,511.1 L1113.0,511.9 L1116.0,512.8 L1119.0,513.7 L1122.0,514.6 L1125.0,515.5 L1128.0,516.4 L1131.0,517.4 L1134.0,518.3 L1137.0,519.3 L1140.0,520.3 L1143.0,521.2 L1146.0,522.3 L1149.0,523.3 L1152.0,524.3 L1155.0,525.3 L1158.0,526.4 L1161.0,527.5 L1164.0,528.5 L1167.0,529.6 L1170.0,530.7 L1173.0,531.8 L1176.0,532.9 L1179.0,534.0 L1182.0,535.1 L1185.0,536.2 L1188.0,537.4 L1191.0,538.5 L1194.0,539.7 L1197.0,540.8 L1200.0,542.0 L1203.0,543.1 L1206.0,544.3 L1209.0,545.5 L1212.0,546.7 L1215.0,547.8 L1218.0,549.0 L1221.0,550.2 L1224.0,551.4 L1227.0,552.6 L1230.0,553.8 L1233.0,554.9 L1236.0,556.1 L1239.0,557.3 L1242.0,558.5 L1245.0,559.7 L1248.0,560.9 L1251.0,562.1 L1254.0,563.3 L1257.0,564.4 L1260.0,565.6 L1263.0,566.8 L1266.0,568.0 L1269.0,569.1 L1272.0,570.3 L1275.0,571.5 L1278.0,572.6 L1281.0,573.8 L1284.0,574.9 L1287.0,576.1 L1290.0,577.2 L1293.0,578.3 L1296.0,579.4 L1299.0,580.5 L1302.0,581.7 L1305.0,582.8 L1308.0,583.9 L1311.0,584.9 L1314.0,586.0 L1317.0,587.1 L1320.0,588.2 L1323.0,589.2 L1326.0,590.3 L1329.0,591.3 L1332.0,592.4 L1335.0,593.4 L1338.0,594.5 L1341.0,595.5 L1344.0,596.5 L1347.0,597.5 L1350.0,598.6 L1353.0,599.6 L1356.0,600.6 L1359.0,601.6 L1362.0,602.6 L1365.0,603.6 L1368.0,604.6 L1371.0,605.5 L1374.0,606.5 L1377.0,607.5 L1380.0,608.5 L1383.0,609.4 L1386.0,610.4 L1389.0,611.4 L1392.0,612.3 L1395.0,613.3 L1398.0,614.2 L1401.0,615.2 L1404.0,616.1 L1407.0,617.0 L1410.0,618.0 L1413.0,618.9 L1416.0,619.8 L1419.0,620.8 L1422.0,621.7 L1425.0,622.6 L1428.0,623.5 L1431.0,624.4 L1434.0,625.4 L1437.0,626.3 L1440.0,627.2 L1443.0,628.1 L1446.0,629.0 L1449.0,629.9 L1452.0,630.8 L1455.0,631.7 L1458.0,632.6 L1461.0,633.5 L1464.0,634.4 L1467.0,635.3 L1470.0,636.2 L1473.0,637.1 L1476.0,638.0 L1479.0,638.9 L1482.0,639.7 L1485.0,640.6 L1488.0,641.5 L1491.0,642.4 L1494.0,643.3 L1497.0,644.2 L1500.0,645.1 L1503.0,646.0 L1506.0,646.9 L1509.0,647.8 L1512.0,648.7 L1515.0,649.6 L1518.0,650.5 L1521.0,651.4 L1524.0,652.3 L1527.0,653.2 L1530.0,654.1 L1533.0,655.0 L1536.0,655.9 L1539.0,656.8 L1542.0,657.7 L1545.0,658.6 L1548.0,659.5 L1551.0,660.5 L1554.0,661.4 L1557.0,662.3 L1560.0,663.2 L1563.0,664.1 L1566.0,665.0 L1569.0,665.9 L1572.0,666.9 L1575.0,667.8 L1578.0,668.7 L1581.0,669.6 L1584.0,670.5 L1587.0,671.5 L1590.0,672.4 L1593.0,673.3 L1596.0,674.2 L1599.0,675.1 L1602.0,676.1 L1605.0,677.0 L1608.0,677.9 L1611.0,678.8 L1614.0,679.7 L1617.0,680.7 L1620.0,681.6 L1623.0,682.5 L1626.0,683.4 L1629.0,684.3 L1632.0,685.3 L1635.0,686.2 L1638.0,687.1 L1641.0,688.0 L1644.0,688.9 L1647.0,689.8 L1650.0,690.7 L1653.0,691.6 L1656.0,692.6 L1659.0,693.5 L1662.0,694.4 L1665.0,695.3 L1668.0,696.2 L1671.0,697.1 L1674.0,698.0 L1677.0,698.9 L1680.0,699.8 L1683.0,700.7 L1686.0,701.6 L1689.0,702.5 L1692.0,703.4 L1695.0,704.3 L1698.0,705.1 L1701.0,706.0 L1704.0,706.9 L1707.0,707.8 L1710.0,708.7 L1713.0,709.6 L1716.0,710.4 L1719.0,711.3 L1722.0,712.2 L1725.0,713.0 L1728.0,713.9 L1731.0,714.8 L1734.0,715.6 L1737.0,716.5 L1740.0,717.3 L1743.0,718.2 L1746.0,719.0 L1749.0,719.9 L1752.0,720.7 L1755.0,721.6 L1758.0,722.4 L1761.0,723.2 L1764.0,724.1 L1767.0,724.9 L1770.0,725.7 L1773.0,726.6 L1776.0,727.4 L1779.0,728.2 L1782.0,729.0 L1785.0,729.8 L1788.0,730.6 L1791.0,731.4 L1794.0,732.2 L1797.0,733.0 L1800.0,733.8 L1803.0,734.6 L1806.0,735.3 L1809.0,736.1 L1812.0,736.9 L1815.0,737.6 L1818.0,738.4 L1821.0,739.2 L1824.0,739.9 L1827.0,740.7 L1830.0,741.4 L1833.0,742.2 L1836.0,742.9 L1839.0,743.6 L1842.0,744.3 L1845.0,745.1 L1848.0,745.8 L1851.0,746.5 L1854.0,747.2 L1857.0,747.9 L1860.0,748.6 L1863.0,749.3 L1866.0,750.0 L1869.0,750.7 L1872.0,751.3 L1875.0,752.0 L1878.0,752.7 L1881.0,753.3 L1884.0,754.0 L1887.0,754.6 L1890.0,755.3 L1893.0,755.9 L1896.0,756.5 L1899.0,757.1 L1902.0,757.8 L1905.0,758.4 L1908.0,759.0 L1911.0,759.6 L1914.0,760.2 L1917.0,760.8 L1920.0,761.3 L1923.0,761.9 L1926.0,762.5 L1929.0,763.0 L1932.0,763.6 L1935.0,764.1 L1938.0,764.7 L1941.0,765.2 L1944.0,765.7 L1947.0,766.3 L1950.0,766.8 L1951.0,767.0" stroke="#c04078" stroke-width="5.8"/>
</g>
<rect x="400.0" y="1021.0" width="19.5" height="12.0" fill="#9a9cc0"/>
<rect x="401.0" y="1021.0" width="18.5" height="4.0" fill="#8c8eb4"/>
<rect x="401.0" y="1024.5" width="18.5" height="5.0" fill="#1c1c44"/>
<rect x="401.0" y="1029.0" width="18.5" height="4.0" fill="#56587e"/>
<rect x="390.0" y="918.5" width="29.5" height="12.0" fill="#9a9cc0"/>
<rect x="391.0" y="918.5" width="28.5" height="4.0" fill="#8c8eb4"/>
<rect x="391.0" y="922.0" width="28.5" height="5.0" fill="#1c1c44"/>
<rect x="391.0" y="926.5" width="28.5" height="4.0" fill="#56587e"/>
<rect x="400.0" y="816.0" width="19.5" height="12.0" fill="#9a9cc0"/>
<rect x="401.0" y="816.0" width="18.5" height="4.0" fill="#8c8eb4"/>
<rect x="401.0" y="819.5" width="18.5" height="5.0" fill="#1c1c44"/>
<rect x="401.0" y="824.0" width="18.5" height="4.0" fill="#56587e"/>
<rect x="390.0" y="713.5" width="29.5" height="12.0" fill="#9a9cc0"/>
<rect x="391.0" y="713.5" width="28.5" height="4.0" fill="#8c8eb4"/>
<rect x="391.0" y="717.0" width="28.5" height="5.0" fill="#1c1c44"/>
<rect x="391.0" y="721.5" width="28.5" height="4.0" fill="#56587e"/>
<rect x="400.0" y="611.0" width="19.5" height="12.0" fill="#9a9cc0"/>
<rect x="401.0" y="611.0" width="18.5" height="4.0" fill="#8c8eb4"/>
<rect x="401.0" y="614.5" width="18.5" height="5.0" fill="#1c1c44"/>
<rect x="401.0" y="619.0" width="18.5" height="4.0" fill="#56587e"/>
<rect x="390.0" y="508.5" width="29.5" height="12.0" fill="#9a9cc0"/>
<rect x="391.0" y="508.5" width="28.5" height="4.0" fill="#8c8eb4"/>
<rect x="391.0" y="512.0" width="28.5" height="5.0" fill="#1c1c44"/>
<rect x="391.0" y="516.5" width="28.5" height="4.0" fill="#56587e"/>
<rect x="400.0" y="406.0" width="19.5" height="12.0" fill="#9a9cc0"/>
<rect x="401.0" y="406.0" width="18.5" height="4.0" fill="#8c8eb4"/>
<rect x="401.0" y="409.5" width="18.5" height="5.0" fill="#1c1c44"/>
<rect x="401.0" y="414.0" width="18.5" height="4.0" fill="#56587e"/>
<rect x="390.0" y="303.5" width="29.5" height="12.0" fill="#9a9cc0"/>
<rect x="391.0" y="303.5" width="28.5" height="4.0" fill="#8c8eb4"/>
<rect x="391.0" y="307.0" width="28.5" height="5.0" fill="#1c1c44"/>
<rect x="391.0" y="311.5" width="28.5" height="4.0" fill="#56587e"/>
<rect x="400.0" y="201.0" width="19.5" height="12.0" fill="#9a9cc0"/>
<rect x="401.0" y="201.0" width="18.5" height="4.0" fill="#8c8eb4"/>
<rect x="401.0" y="204.5" width="18.5" height="5.0" fill="#1c1c44"/>
<rect x="401.0" y="209.0" width="18.5" height="4.0" fill="#56587e"/>
<rect x="583.9" y="1129.5" width="4.0" height="29.0" fill="#8a8ca8"/>
<rect x="587.4" y="1129.5" width="5.0" height="29.0" fill="#1c1c48"/>
<rect x="591.9" y="1129.5" width="4.0" height="29.0" fill="#7a7c9c"/>
<rect x="754.4" y="1129.5" width="4.0" height="17.0" fill="#8a8ca8"/>
<rect x="757.9" y="1129.5" width="5.0" height="17.0" fill="#1c1c48"/>
<rect x="762.4" y="1129.5" width="4.0" height="17.0" fill="#7a7c9c"/>
<rect x="924.8" y="1129.5" width="4.0" height="29.0" fill="#8a8ca8"/>
<rect x="928.3" y="1129.5" width="5.0" height="29.0" fill="#1c1c48"/>
<rect x="932.8" y="1129.5" width="4.0" height="29.0" fill="#7a7c9c"/>
<rect x="1095.3" y="1129.5" width="4.0" height="17.0" fill="#8a8ca8"/>
<rect x="1098.8" y="1129.5" width="5.0" height="17.0" fill="#1c1c48"/>
<rect x="1103.3" y="1129.5" width="4.0" height="17.0" fill="#7a7c9c"/>
<rect x="1265.7" y="1129.5" width="4.0" height="29.0" fill="#8a8ca8"/>
<rect x="1269.2" y="1129.5" width="5.0" height="29.0" fill="#1c1c48"/>
<rect x="1273.7" y="1129.5" width="4.0" height="29.0" fill="#7a7c9c"/>
<rect x="1436.2" y="1129.5" width="4.0" height="17.0" fill="#8a8ca8"/>
<rect x="1439.7" y="1129.5" width="5.0" height="17.0" fill="#1c1c48"/>
<rect x="1444.2" y="1129.5" width="4.0" height="17.0" fill="#7a7c9c"/>
<rect x="1606.6" y="1129.5" width="4.0" height="29.0" fill="#8a8ca8"/>
<rect x="1610.1" y="1129.5" width="5.0" height="29.0" fill="#1c1c48"/>
<rect x="1614.6" y="1129.5" width="4.0" height="29.0" fill="#7a7c9c"/>
<rect x="1777.1" y="1129.5" width="4.0" height="17.0" fill="#8a8ca8"/>
<rect x="1780.6" y="1129.5" width="5.0" height="17.0" fill="#1c1c48"/>
<rect x="1785.1" y="1129.5" width="4.0" height="17.0" fill="#7a7c9c"/>
<rect x="413.0" y="98.0" width="4.0" height="1040.0" fill="#6e729e"/>
<rect x="416.5" y="98.0" width="5.0" height="1040.0" fill="#1e1e58"/>
<rect x="421.0" y="98.0" width="5.0" height="1040.0" fill="#7476b0"/>
<rect x="387.0" y="98.0" width="5.0" height="13.0" fill="#c4c6dc"/>
<rect x="392.0" y="98.0" width="1568.0" height="5.0" fill="#8a8eba"/>
<rect x="392.0" y="102.5" width="1568.0" height="5.0" fill="#1f1f5c"/>
<rect x="392.0" y="107.0" width="1568.0" height="4.0" fill="#5a5a84"/>
<rect x="387.0" y="1121.0" width="5.0" height="17.0" fill="#c4c6dc"/>
<rect x="392.0" y="1121.5" width="1568.0" height="3.5" fill="#c6cbef"/>
<rect x="392.0" y="1125.0" width="1568.0" height="9.0" fill="#34346c"/>
<rect x="392.0" y="1134.0" width="1568.0" height="4.0" fill="#c4c6ec"/>
<rect x="1947.0" y="98.0" width="4.0" height="1061.0" fill="#a0a2c4"/>
<rect x="1950.5" y="98.0" width="6.0" height="1061.0" fill="#22225e"/>
<rect x="1956.0" y="98.0" width="4.0" height="1061.0" fill="#4c4c92"/>
<text x="380" y="1153.0" font-family="'Liberation Sans', Arial, sans-serif" stroke="#1c1c1c" stroke-width="2.2" font-size="76" text-anchor="end" fill="#1c1c1c">0.0</text>
<text x="380" y="948.0" font-family="'Liberation Sans', Arial, sans-serif" stroke="#1c1c1c" stroke-width="2.2" font-size="76" text-anchor="end" fill="#1c1c1c">0.2</text>
<text x="380" y="743.0" font-family="'Liberation Sans', Arial, sans-serif" stroke="#1c1c1c" stroke-width="2.2" font-size="76" text-anchor="end" fill="#1c1c1c">0.4</text>
<text x="380" y="538.0" font-family="'Liberation Sans', Arial, sans-serif" stroke="#1c1c1c" stroke-width="2.2" font-size="76" text-anchor="end" fill="#1c1c1c">0.6</text>
<text x="380" y="333.0" font-family="'Liberation Sans', Arial, sans-serif" stroke="#1c1c1c" stroke-width="2.2" font-size="76" text-anchor="end" fill="#1c1c1c">0.8</text>
<text x="380" y="128.0" font-family="'Liberation Sans', Arial, sans-serif" stroke="#1c1c1c" stroke-width="2.2" font-size="76" text-anchor="end" fill="#1c1c1c">1.0</text>
<text x="591.9" y="1242" font-family="'Liberation Sans', Arial, sans-serif" stroke="#1c1c1c" stroke-width="2.2" font-size="76" text-anchor="middle" fill="#1c1c1c">240</text>
<text x="932.8" y="1242" font-family="'Liberation Sans', Arial, sans-serif" stroke="#1c1c1c" stroke-width="2.2" font-size="76" text-anchor="middle" fill="#1c1c1c">260</text>
<text x="1273.7" y="1242" font-family="'Liberation Sans', Arial, sans-serif" stroke="#1c1c1c" stroke-width="2.2" font-size="76" text-anchor="middle" fill="#1c1c1c">280</text>
<text x="1614.6" y="1242" font-family="'Liberation Sans', Arial, sans-serif" stroke="#1c1c1c" stroke-width="2.2" font-size="76" text-anchor="middle" fill="#1c1c1c">300</text>
<text x="1955.5" y="1242" font-family="'Liberation Sans', Arial, sans-serif" stroke="#1c1c1c" stroke-width="2.2" font-size="76" text-anchor="middle" fill="#1c1c1c">320</text>
<rect x="277" y="120.3" width="14.6" height="9.5" fill="#fff"/><rect x="300.6" y="120.3" width="16" height="9.5" fill="#fff"/>
<text x="1185.5" y="1351.5" font-family="'Liberation Sans', Arial, sans-serif" font-weight="bold" font-size="85.3" text-anchor="middle" fill="#0a0a0a">Wavelength [nm]</text>
<text transform="translate(123.8,616.5) rotate(-90)" x="0" y="0" font-family="'Liberation Sans', Arial, sans-serif" font-weight="bold" font-size="84" text-anchor="middle" fill="#0a0a0a">Absorbance</text>
<rect x="1572" y="243" width="10" height="165" fill="#000"/>
<polygon points="1557.5,401 1596,401 1581.5,452 1572,452" fill="#000"/>
</g>
</svg>
</body></html>
